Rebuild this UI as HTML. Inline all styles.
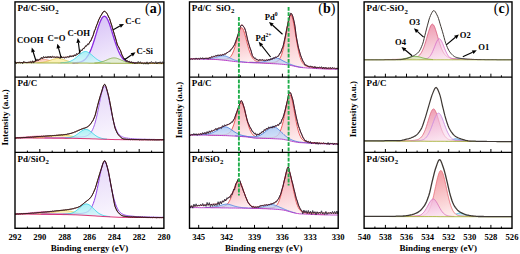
<!DOCTYPE html>
<html><head><meta charset="utf-8"><style>
html,body{margin:0;padding:0;background:#fff;width:520px;height:254px;overflow:hidden}
svg{display:block}
</style></head><body>
<svg width="520" height="254" viewBox="0 0 520 254">
<defs><linearGradient id="gPur" x1="0.2" y1="0" x2="0.7" y2="1"><stop offset="0" stop-color="#d5bdf6"/><stop offset="1" stop-color="#f5f0fd"/></linearGradient><linearGradient id="gPur2" x1="0.2" y1="0" x2="0.7" y2="1"><stop offset="0" stop-color="#e2d2f8"/><stop offset="1" stop-color="#fbf9fe"/></linearGradient><linearGradient id="gCyan" x1="0.2" y1="0" x2="0.7" y2="1"><stop offset="0" stop-color="#86e8f2"/><stop offset="1" stop-color="#d6f7fa"/></linearGradient><linearGradient id="gPink" x1="0.2" y1="0" x2="0.7" y2="1"><stop offset="0" stop-color="#f4a0aa"/><stop offset="1" stop-color="#fff5f5"/></linearGradient><linearGradient id="gBlue" x1="0.2" y1="0" x2="0.7" y2="1"><stop offset="0" stop-color="#9cbcf0"/><stop offset="1" stop-color="#dce8fb"/></linearGradient><linearGradient id="gO3" x1="0.2" y1="0" x2="0.7" y2="1"><stop offset="0" stop-color="#ec92aa"/><stop offset="1" stop-color="#fdeef2"/></linearGradient><linearGradient id="gO2" x1="0.2" y1="0" x2="0.7" y2="1"><stop offset="0" stop-color="#eeaad8"/><stop offset="1" stop-color="#fbe8f5"/></linearGradient><linearGradient id="gRed" x1="0.2" y1="0" x2="0.7" y2="1"><stop offset="0" stop-color="#f09098"/><stop offset="1" stop-color="#fff2f2"/></linearGradient></defs>
<rect width="520" height="254" fill="#fff"/>
<path d="M27.5 62.7L28.5 62.6L29.5 62.6L30.5 62.5L31.5 62.3L32.5 62.2L33.5 62L34.5 61.7L35.5 61.5L36.5 61.2L37.5 60.8L38.5 60.5L39.5 60.2L40.5 59.9L41.5 59.7L42.5 59.5L43.5 59.4L44.5 59.4L45.5 59.5L46.5 59.7L47.5 59.9L48.5 60.2L49.5 60.5L50.5 60.9L51.5 61.2L52.5 61.5L53.5 61.8L54.5 62L55.5 62.2L56.5 62.4L57.5 62.5L58.5 62.7L59.5 62.7L60.5 62.8L60.5 63L59.5 63L58.5 63L57.5 63L56.5 63L55.5 63L54.5 63L53.5 63L52.5 63L51.5 63L50.5 63L49.5 63L48.5 63L47.5 63L46.5 63L45.5 63L44.5 63L43.5 63L42.5 63L41.5 63L40.5 63L39.5 63L38.5 63L37.5 63L36.5 63L35.5 63L34.5 62.9L33.5 62.9L32.5 62.9L31.5 62.9L30.5 62.9L29.5 62.9L28.5 62.9L27.5 62.9Z" fill="#fbd6c8"/>
<path d="M27.5 62.7L28.5 62.6L29.5 62.6L30.5 62.5L31.5 62.3L32.5 62.2L33.5 62L34.5 61.7L35.5 61.5L36.5 61.2L37.5 60.8L38.5 60.5L39.5 60.2L40.5 59.9L41.5 59.7L42.5 59.5L43.5 59.4L44.5 59.4L45.5 59.5L46.5 59.7L47.5 59.9L48.5 60.2L49.5 60.5L50.5 60.9L51.5 61.2L52.5 61.5L53.5 61.8L54.5 62L55.5 62.2L56.5 62.4L57.5 62.5L58.5 62.7L59.5 62.7L60.5 62.8" fill="none" stroke="#f08a74" stroke-width="0.8"/>
<path d="M37.5 62.7L38.5 62.7L39.5 62.6L40.5 62.5L41.5 62.4L42.5 62.3L43.5 62.1L44.5 61.9L45.5 61.7L46.5 61.4L47.5 61.2L48.5 60.9L49.5 60.5L50.5 60.2L51.5 59.8L52.5 59.5L53.5 59.2L54.5 58.9L55.5 58.7L56.5 58.5L57.5 58.4L58.5 58.4L59.5 58.5L60.5 58.7L61.5 58.9L62.5 59.2L63.5 59.5L64.5 59.9L65.5 60.2L66.5 60.6L67.5 60.9L68.5 61.2L69.5 61.5L70.5 61.8L71.5 62L72.5 62.2L73.5 62.4L74.5 62.5L75.5 62.6L76.5 62.7L77.5 62.8L78.5 62.9L78.5 63.1L77.5 63.1L76.5 63.1L75.5 63.1L74.5 63.1L73.5 63.1L72.5 63.1L71.5 63.1L70.5 63.1L69.5 63.1L68.5 63.1L67.5 63.1L66.5 63.1L65.5 63.1L64.5 63L63.5 63L62.5 63L61.5 63L60.5 63L59.5 63L58.5 63L57.5 63L56.5 63L55.5 63L54.5 63L53.5 63L52.5 63L51.5 63L50.5 63L49.5 63L48.5 63L47.5 63L46.5 63L45.5 63L44.5 63L43.5 63L42.5 63L41.5 63L40.5 63L39.5 63L38.5 63L37.5 63Z" fill="#faf0b4"/>
<path d="M37.5 62.7L38.5 62.7L39.5 62.6L40.5 62.5L41.5 62.4L42.5 62.3L43.5 62.1L44.5 61.9L45.5 61.7L46.5 61.4L47.5 61.2L48.5 60.9L49.5 60.5L50.5 60.2L51.5 59.8L52.5 59.5L53.5 59.2L54.5 58.9L55.5 58.7L56.5 58.5L57.5 58.4L58.5 58.4L59.5 58.5L60.5 58.7L61.5 58.9L62.5 59.2L63.5 59.5L64.5 59.9L65.5 60.2L66.5 60.6L67.5 60.9L68.5 61.2L69.5 61.5L70.5 61.8L71.5 62L72.5 62.2L73.5 62.4L74.5 62.5L75.5 62.6L76.5 62.7L77.5 62.8L78.5 62.9" fill="none" stroke="#e2c44a" stroke-width="0.8"/>
<path d="M72.4 62.8L73.4 62.8L74.4 62.8L75.4 62.7L76.4 62.6L77.4 62.5L78.4 62.4L79.4 62.2L80.4 61.9L81.4 61.6L82.4 61.2L83.4 60.6L84.4 59.9L85.4 59L86.4 57.9L87.4 56.5L88.4 54.9L89.4 53L90.4 50.9L91.4 48.4L92.4 45.7L93.4 42.8L94.4 39.7L95.4 36.4L96.4 33.1L97.4 29.8L98.4 26.7L99.4 23.8L100.4 21.2L101.4 19.1L102.4 17.5L103.4 16.5L104.4 16.2L105.4 16.6L106.4 17.5L107.4 19.1L108.4 21.3L109.4 23.8L110.4 26.7L111.4 29.9L112.4 33.2L113.4 36.5L114.4 39.8L115.4 42.9L116.4 45.9L117.4 48.6L118.4 51L119.4 53.2L120.4 55.1L121.4 56.7L122.4 58L123.4 59.2L124.4 60.1L125.4 60.8L126.4 61.4L127.4 61.8L128.4 62.2L129.4 62.4L130.4 62.7L131.4 62.8L132.4 62.9L133.4 63L134.4 63.1L135.4 63.1L136.4 63.2L136.4 63.4L135.4 63.4L134.4 63.4L133.4 63.4L132.4 63.4L131.4 63.4L130.4 63.4L129.4 63.4L128.4 63.4L127.4 63.3L126.4 63.3L125.4 63.3L124.4 63.3L123.4 63.3L122.4 63.3L121.4 63.3L120.4 63.3L119.4 63.3L118.4 63.3L117.4 63.3L116.4 63.3L115.4 63.3L114.4 63.3L113.4 63.3L112.4 63.3L111.4 63.3L110.4 63.3L109.4 63.2L108.4 63.2L107.4 63.2L106.4 63.2L105.4 63.2L104.4 63.2L103.4 63.2L102.4 63.2L101.4 63.2L100.4 63.2L99.4 63.2L98.4 63.2L97.4 63.2L96.4 63.2L95.4 63.2L94.4 63.2L93.4 63.2L92.4 63.2L91.4 63.2L90.4 63.2L89.4 63.2L88.4 63.1L87.4 63.1L86.4 63.1L85.4 63.1L84.4 63.1L83.4 63.1L82.4 63.1L81.4 63.1L80.4 63.1L79.4 63.1L78.4 63.1L77.4 63.1L76.4 63.1L75.4 63.1L74.4 63.1L73.4 63.1L72.4 63.1Z" fill="url(#gPur)"/>
<path d="M72.4 62.8L73.4 62.8L74.4 62.8L75.4 62.7L76.4 62.6L77.4 62.5L78.4 62.4L79.4 62.2L80.4 61.9L81.4 61.6L82.4 61.2L83.4 60.6L84.4 59.9L85.4 59L86.4 57.9L87.4 56.5L88.4 54.9L89.4 53L90.4 50.9L91.4 48.4L92.4 45.7L93.4 42.8L94.4 39.7L95.4 36.4L96.4 33.1L97.4 29.8L98.4 26.7L99.4 23.8L100.4 21.2L101.4 19.1L102.4 17.5L103.4 16.5L104.4 16.2L105.4 16.6L106.4 17.5L107.4 19.1L108.4 21.3L109.4 23.8L110.4 26.7L111.4 29.9L112.4 33.2L113.4 36.5L114.4 39.8L115.4 42.9L116.4 45.9L117.4 48.6L118.4 51L119.4 53.2L120.4 55.1L121.4 56.7L122.4 58L123.4 59.2L124.4 60.1L125.4 60.8L126.4 61.4L127.4 61.8L128.4 62.2L129.4 62.4L130.4 62.7L131.4 62.8L132.4 62.9L133.4 63L134.4 63.1L135.4 63.1L136.4 63.2" fill="none" stroke="#8a2be2" stroke-width="1.3"/>
<path d="M60.5 62.8L61.5 62.8L62.5 62.7L63.5 62.6L64.5 62.6L65.5 62.4L66.5 62.3L67.5 62.1L68.5 61.9L69.5 61.5L70.5 61.2L71.5 60.7L72.5 60.2L73.5 59.6L74.5 58.9L75.5 58.1L76.5 57.3L77.5 56.4L78.5 55.5L79.5 54.7L80.5 53.8L81.5 53.1L82.5 52.4L83.5 51.9L84.5 51.6L85.5 51.5L86.5 51.6L87.5 52L88.5 52.5L89.5 53.1L90.5 53.9L91.5 54.7L92.5 55.6L93.5 56.5L94.5 57.4L95.5 58.2L96.5 59L97.5 59.7L98.5 60.3L99.5 60.8L100.5 61.3L101.5 61.7L102.5 62L103.5 62.3L104.5 62.5L105.5 62.6L106.5 62.7L107.5 62.8L108.5 62.9L109.5 63L110.5 63L110.5 63.3L109.5 63.2L108.5 63.2L107.5 63.2L106.5 63.2L105.5 63.2L104.5 63.2L103.5 63.2L102.5 63.2L101.5 63.2L100.5 63.2L99.5 63.2L98.5 63.2L97.5 63.2L96.5 63.2L95.5 63.2L94.5 63.2L93.5 63.2L92.5 63.2L91.5 63.2L90.5 63.2L89.5 63.2L88.5 63.1L87.5 63.1L86.5 63.1L85.5 63.1L84.5 63.1L83.5 63.1L82.5 63.1L81.5 63.1L80.5 63.1L79.5 63.1L78.5 63.1L77.5 63.1L76.5 63.1L75.5 63.1L74.5 63.1L73.5 63.1L72.5 63.1L71.5 63.1L70.5 63.1L69.5 63.1L68.5 63.1L67.5 63.1L66.5 63.1L65.5 63.1L64.5 63L63.5 63L62.5 63L61.5 63L60.5 63Z" fill="url(#gCyan)" fill-opacity="0.75"/>
<path d="M60.5 62.8L61.5 62.8L62.5 62.7L63.5 62.6L64.5 62.6L65.5 62.4L66.5 62.3L67.5 62.1L68.5 61.9L69.5 61.5L70.5 61.2L71.5 60.7L72.5 60.2L73.5 59.6L74.5 58.9L75.5 58.1L76.5 57.3L77.5 56.4L78.5 55.5L79.5 54.7L80.5 53.8L81.5 53.1L82.5 52.4L83.5 51.9L84.5 51.6L85.5 51.5L86.5 51.6L87.5 52L88.5 52.5L89.5 53.1L90.5 53.9L91.5 54.7L92.5 55.6L93.5 56.5L94.5 57.4L95.5 58.2L96.5 59L97.5 59.7L98.5 60.3L99.5 60.8L100.5 61.3L101.5 61.7L102.5 62L103.5 62.3L104.5 62.5L105.5 62.6L106.5 62.7L107.5 62.8L108.5 62.9L109.5 63L110.5 63" fill="none" stroke="#30d2e6" stroke-width="0.8"/>
<path d="M94.5 62.9L95.5 62.9L96.5 62.8L97.5 62.7L98.5 62.5L99.5 62.4L100.5 62.2L101.5 61.9L102.5 61.6L103.5 61.3L104.5 60.9L105.5 60.5L106.5 60.1L107.5 59.7L108.5 59.2L109.5 58.8L110.5 58.5L111.5 58.2L112.5 58L113.5 57.9L114.5 57.9L115.5 58L116.5 58.2L117.5 58.5L118.5 58.9L119.5 59.3L120.5 59.7L121.5 60.2L122.5 60.6L123.5 61L124.5 61.4L125.5 61.8L126.5 62.1L127.5 62.3L128.5 62.5L129.5 62.7L130.5 62.9L131.5 63L132.5 63.1L133.5 63.1L133.5 63.4L132.5 63.4L131.5 63.4L130.5 63.4L129.5 63.4L128.5 63.4L127.5 63.3L126.5 63.3L125.5 63.3L124.5 63.3L123.5 63.3L122.5 63.3L121.5 63.3L120.5 63.3L119.5 63.3L118.5 63.3L117.5 63.3L116.5 63.3L115.5 63.3L114.5 63.3L113.5 63.3L112.5 63.3L111.5 63.3L110.5 63.3L109.5 63.2L108.5 63.2L107.5 63.2L106.5 63.2L105.5 63.2L104.5 63.2L103.5 63.2L102.5 63.2L101.5 63.2L100.5 63.2L99.5 63.2L98.5 63.2L97.5 63.2L96.5 63.2L95.5 63.2L94.5 63.2Z" fill="#dcedc4" fill-opacity="0.7"/>
<path d="M94.5 62.9L95.5 62.9L96.5 62.8L97.5 62.7L98.5 62.5L99.5 62.4L100.5 62.2L101.5 61.9L102.5 61.6L103.5 61.3L104.5 60.9L105.5 60.5L106.5 60.1L107.5 59.7L108.5 59.2L109.5 58.8L110.5 58.5L111.5 58.2L112.5 58L113.5 57.9L114.5 57.9L115.5 58L116.5 58.2L117.5 58.5L118.5 58.9L119.5 59.3L120.5 59.7L121.5 60.2L122.5 60.6L123.5 61L124.5 61.4L125.5 61.8L126.5 62.1L127.5 62.3L128.5 62.5L129.5 62.7L130.5 62.9L131.5 63L132.5 63.1L133.5 63.1" fill="none" stroke="#7aa83a" stroke-width="0.8"/>
<path d="M15 62.9L17 62.9L19 62.9L21 62.9L23 62.9L25 62.9L27 62.9L29 62.9L31 62.9L33 62.9L35 62.9L37 63L39 63L41 63L43 63L45 63L47 63L49 63L51 63L53 63L55 63L57 63L59 63L61 63L63 63L65 63.1L67 63.1L69 63.1L71 63.1L73 63.1L75 63.1L77 63.1L79 63.1L81 63.1L83 63.1L85 63.1L87 63.1L89 63.2L91 63.2L93 63.2L95 63.2L97 63.2L99 63.2L101 63.2L103 63.2L105 63.2L107 63.2L109 63.2L111 63.3L113 63.3L115 63.3L117 63.3L119 63.3L121 63.3L123 63.3L125 63.3L127 63.3L129 63.4L131 63.4L133 63.4L135 63.4L137 63.4L139 63.4L141 63.4L143 63.4L145 63.5L147 63.5L149 63.5L151 63.5L153 63.5L155 63.5L157 63.5L159 63.6L161 63.6L163 63.6L163.9 63.6" fill="none" stroke="#98a838" stroke-width="0.9" />
<path d="M15 62.6L15.7 62.6L16.4 62.6L17.1 62.6L17.8 62.6L18.5 62.6L19.2 62.6L19.9 62.6L20.6 62.6L21.3 62.6L22 62.5L22.7 62.5L23.4 62.5L24.1 62.5L24.8 62.5L25.5 62.5L26.2 62.5L26.9 62.4L27.6 62.4L28.3 62.4L29 62.3L29.7 62.2L30.4 62.2L31.1 62.1L31.8 62L32.5 61.9L33.2 61.8L33.9 61.6L34.6 61.3L35.3 61.1L36 60.8L36.7 60.6L37.4 60.3L38.1 60L38.8 59.6L39.5 59.3L40.2 58.9L40.9 58.6L41.6 58.3L42.3 58.1L43 57.9L43.7 57.8L44.4 57.6L45.1 57.5L45.8 57.4L46.5 57.3L47.2 57.3L47.9 57.3L48.6 57.2L49.3 57.2L50 57.2L50.7 57.2L51.4 57.1L52.1 57.1L52.8 57.1L53.5 57.1L54.2 57.1L54.9 57.1L55.6 57.1L56.3 57.1L57 57.2L57.7 57.2L58.4 57.2L59.1 57.3L59.8 57.3L60.5 57.4L61.2 57.4L61.9 57.4L62.6 57.4L63.3 57.4L64 57.3L64.7 57.3L65.4 57.2L66.1 57.1L66.8 57L67.5 56.9L68.2 56.8L68.9 56.7L69.6 56.6L70.3 56.4L71 56.2L71.7 56.1L72.4 55.9L73.1 55.8L73.8 55.6L74.5 55.4L75.2 55.2L75.9 55L76.6 54.8L77.3 54.4L78 53.9L78.7 53.2L79.4 52.5L80.1 51.8L80.8 51.1L81.5 50.4L82.2 49.7L82.9 49L83.6 48.3L84.3 47.7L85 47L85.7 46.4L86.4 45.7L87.1 45L87.8 44.4L88.5 43.7L89.2 43L89.9 42.1L90.6 40.9L91.3 39.6L92 38.2L92.7 36.6L93.4 34.7L94.1 32.6L94.8 30.5L95.5 28.4L96.2 26.5L96.9 24.7L97.6 22.9L98.3 21.1L99 19.4L99.7 17.9L100.4 16.6L101.1 15.3L101.8 14L102.5 12.9L103.2 11.9L103.9 11.3L104.6 11.2L105.3 11.6L106 12.3L106.7 13.2L107.4 14.4L108.1 15.7L108.8 17L109.5 18.6L110.2 20.6L110.9 22.9L111.6 25.2L112.3 27.5L113 29.7L113.7 32.1L114.4 34.5L115.1 36.8L115.8 39.2L116.5 41.7L117.2 44L117.9 45.6L118.6 46.9L119.3 48.1L120 49.4L120.7 51.2L121.4 53.1L122.1 55L122.8 56.7L123.5 58L124.2 58.8L124.9 59.4L125.6 60L126.3 60.5L127 60.9L127.7 61.3L128.4 61.6L129.1 61.8L129.8 62L130.5 62.2L131.2 62.4L131.9 62.5L132.6 62.7L133.3 62.8L134 62.9L134.7 62.9L135.4 62.9L136.1 62.9L136.8 62.9L137.5 62.9L138.2 62.9L138.9 62.9L139.6 62.9L140.3 62.9L141 62.9L141.7 62.9L142.4 63L143.1 63L143.8 63L144.5 63L145.2 63L145.9 63L146.6 63L147.3 63L148 63L148.7 63L149.4 63L150.1 63L150.8 63L151.5 63L152.2 63L152.9 63L153.6 63L154.3 63L155 63L155.7 63L156.4 63L157.1 63L157.8 63L158.5 63L159.2 63L159.9 63L160.6 63L161.3 63L162 63L162.7 63L163.4 63L163.9 63" fill="none" stroke="#6a1818" stroke-width="1.0" />
<path d="M15 61.2L16.1 63.9L17.2 62.2L18.3 63L19.4 61.8L20.5 63.3L21.6 62L22.7 63.8L23.8 61.1L24.9 62.5L26 62.2L27.1 63.1L28.2 62L29.3 62.3L30.4 61.3L31.5 63.2L32.6 60.7L33.7 63.1L34.8 61.1L35.9 60.9L37 58.9L38.1 60.8L39.2 59.3L40.3 59.4L41.4 57.2L42.5 58.7L43.6 56.3L44.7 57.9L45.8 56.5L46.9 58.1L48 56.1L49.1 57.6L50.2 56L51.3 57.9L52.4 56L53.5 57.1L54.6 56.8L55.7 58L56.8 56.6L57.9 57.5L59 57.3L60.1 58.7L61.2 56L62.3 57.9L63.4 56.9L64.5 58.4L65.6 57.1L66.7 57.7L67.8 56.6L68.9 57.7L70 55.4L71.1 57.1L72.2 55.8L73.3 57L74.4 54.7L75.5 56.1L76.6 53.3L77.7 54.5L78.8 52.8L79.9 52.6L81 49.6L82.1 50.7L83.2 48.2L84.3 48.7L85.4 45.7L86.5 46.3L87.6 43.8L88.7 44.8L89.8 41.5L90.9 41L92 37.4L93.1 35.6L94.2 30.8L95.3 29.5L96.4 26L97.5 23.5L98.6 19.9L99.7 18.1L100.8 15.5L101.9 14.6L103 12L104.1 11.6L105.2 11.4L106.3 12.8L107.4 14L108.5 17.1L109.6 18.5L110.7 22.5L111.8 25.3L112.9 29.8L114 33.1L115.1 36.8L116.2 40.3L117.3 45.5L118.4 46.4L119.5 49.6L120.6 50.6L121.7 54.8L122.8 56.1L123.9 59.2L125 58.1L126.1 61.7L127.2 60.4L128.3 61.9L129.4 61.2L130.5 63L131.6 61.5L132.7 63.2L133.8 62.1L134.9 63.9L136 62.3L137.1 63.6L138.2 61.4L139.3 63.3L140.4 61.7L141.5 63.9L142.6 62.7L143.7 64.2L144.8 62.6L145.9 64.2L147 61.8L148.1 64.3L149.2 62.5L150.3 63.1L151.4 61.5L152.5 63L153.6 62.6L154.7 63.4L155.8 61.6L156.9 64L158 62L159.1 63.1L160.2 61.7L161.3 63.8L162.4 61.7L163.5 63.4L163.9 62.6" fill="none" stroke="#151515" stroke-width="0.7" stroke-linejoin="round"/>
<path d="M15 137.7L16 137.6L17 137.6L18 137.5L19 137.5L20 137.4L21 137.3L22 137.3L23 137.2L24 137.1L25 137L26 136.9L27 136.8L28 136.8L29 136.7L30 136.6L31 136.5L32 136.4L33 136.3L34 136.3L35 136.2L36 136.2L37 136.1L38 136.1L39 136.1L40 136.1L41 136.1L42 136.1L43 136.2L44 136.2L45 136.3L46 136.3L47 136.4L48 136.5L49 136.6L50 136.7L51 136.8L52 136.9L53 137L54 137.1L55 137.2L56 137.3L57 137.4L58 137.4L59 137.5L60 137.6L61 137.7L62 137.7L63 137.8L64 137.9L65 137.9L66 138L67 138L67.5 138L67.5 138.3L67 138.3L66 138.3L65 138.3L64 138.2L63 138.2L62 138.2L61 138.2L60 138.2L59 138.2L58 138.2L57 138.2L56 138.2L55 138.2L54 138.2L53 138.2L52 138.2L51 138.1L50 138.1L49 138.1L48 138.1L47 138.1L46 138.1L45 138.1L44 138.1L43 138.1L42 138.1L41 138.1L40 138.1L39 138.1L38 138.1L37 138.1L36 138.1L35 138L34 138L33 138L32 138L31 138L30 138L29 138L28 138L27 138L26 138L25 138L24 138L23 138L22 138L21 138L20 138L19 138L18 138L17 138L16 138L15 138Z" fill="#fbd4e2"/>
<path d="M15 137.7L16 137.6L17 137.6L18 137.5L19 137.5L20 137.4L21 137.3L22 137.3L23 137.2L24 137.1L25 137L26 136.9L27 136.8L28 136.8L29 136.7L30 136.6L31 136.5L32 136.4L33 136.3L34 136.3L35 136.2L36 136.2L37 136.1L38 136.1L39 136.1L40 136.1L41 136.1L42 136.1L43 136.2L44 136.2L45 136.3L46 136.3L47 136.4L48 136.5L49 136.6L50 136.7L51 136.8L52 136.9L53 137L54 137.1L55 137.2L56 137.3L57 137.4L58 137.4L59 137.5L60 137.6L61 137.7L62 137.7L63 137.8L64 137.9L65 137.9L66 138L67 138L67.5 138" fill="none" stroke="#f06ca0" stroke-width="0.8"/>
<path d="M33 137.8L34 137.8L35 137.7L36 137.7L37 137.7L38 137.6L39 137.5L40 137.5L41 137.4L42 137.3L43 137.2L44 137.1L45 137L46 136.9L47 136.8L48 136.6L49 136.5L50 136.3L51 136.2L52 136.1L53 135.9L54 135.8L55 135.7L56 135.6L57 135.5L58 135.4L59 135.3L60 135.3L61 135.2L62 135.2L63 135.3L64 135.3L65 135.4L66 135.4L67 135.5L68 135.7L69 135.8L70 135.9L71 136.1L72 136.2L73 136.4L74 136.6L75 136.7L76 136.9L77 137L78 137.2L79 137.3L80 137.5L81 137.6L82 137.7L83 137.9L84 138L85 138.1L86 138.2L87 138.3L88 138.4L89 138.4L90 138.5L91 138.6L91 138.8L90 138.8L89 138.7L88 138.7L87 138.7L86 138.6L85 138.6L84 138.6L83 138.6L82 138.5L81 138.5L80 138.5L79 138.5L78 138.4L77 138.4L76 138.4L75 138.4L74 138.4L73 138.3L72 138.3L71 138.3L70 138.3L69 138.3L68 138.3L67 138.3L66 138.3L65 138.3L64 138.2L63 138.2L62 138.2L61 138.2L60 138.2L59 138.2L58 138.2L57 138.2L56 138.2L55 138.2L54 138.2L53 138.2L52 138.2L51 138.1L50 138.1L49 138.1L48 138.1L47 138.1L46 138.1L45 138.1L44 138.1L43 138.1L42 138.1L41 138.1L40 138.1L39 138.1L38 138.1L37 138.1L36 138.1L35 138L34 138L33 138Z" fill="#faf3c0"/>
<path d="M33 137.8L34 137.8L35 137.7L36 137.7L37 137.7L38 137.6L39 137.5L40 137.5L41 137.4L42 137.3L43 137.2L44 137.1L45 137L46 136.9L47 136.8L48 136.6L49 136.5L50 136.3L51 136.2L52 136.1L53 135.9L54 135.8L55 135.7L56 135.6L57 135.5L58 135.4L59 135.3L60 135.3L61 135.2L62 135.2L63 135.3L64 135.3L65 135.4L66 135.4L67 135.5L68 135.7L69 135.8L70 135.9L71 136.1L72 136.2L73 136.4L74 136.6L75 136.7L76 136.9L77 137L78 137.2L79 137.3L80 137.5L81 137.6L82 137.7L83 137.9L84 138L85 138.1L86 138.2L87 138.3L88 138.4L89 138.4L90 138.5L91 138.6" fill="none" stroke="#e2cc48" stroke-width="0.8"/>
<path d="M44.6 137.9L45.6 137.8L46.6 137.8L47.6 137.8L48.6 137.8L49.6 137.8L50.6 137.8L51.6 137.8L52.6 137.8L53.6 137.8L54.6 137.8L55.6 137.8L56.6 137.8L57.6 137.8L58.6 137.8L59.6 137.8L60.6 137.8L61.6 137.7L62.6 137.7L63.6 137.7L64.6 137.7L65.6 137.7L66.6 137.7L67.6 137.6L68.6 137.6L69.6 137.6L70.6 137.6L71.6 137.5L72.6 137.5L73.6 137.4L74.6 137.4L75.6 137.4L76.6 137.3L77.6 137.3L78.6 137.2L79.6 137.1L80.6 137L81.6 136.9L82.6 136.8L83.6 136.7L84.6 136.5L85.6 136.2L86.6 135.9L87.6 135.4L88.6 134.8L89.6 134L90.6 132.9L91.6 131.5L92.6 129.7L93.6 127.3L94.6 124.5L95.6 121L96.6 117L97.6 112.5L98.6 107.7L99.6 102.6L100.6 97.7L101.6 93.2L102.6 89.5L103.6 87.1L104.6 86.3L105.6 87.2L106.6 89.6L107.6 93.4L108.6 97.9L109.6 103L110.6 108.1L111.6 113L112.6 117.5L113.6 121.6L114.6 125.1L115.6 128L116.6 130.4L117.6 132.3L118.6 133.8L119.6 134.9L120.6 135.8L121.6 136.4L122.6 136.9L123.6 137.3L124.6 137.6L125.6 137.8L126.6 138L127.6 138.1L128.6 138.3L129.6 138.4L130.6 138.5L131.6 138.6L132.6 138.6L133.6 138.7L134.6 138.8L135.6 138.8L136.6 138.9L137.6 139L138.6 139L139.6 139L140.6 139.1L141.6 139.1L142.6 139.2L143.6 139.2L144.6 139.2L145.6 139.2L146.6 139.3L147.6 139.3L148.6 139.3L149.6 139.3L150.6 139.4L151.6 139.4L152.6 139.4L153.6 139.4L154.6 139.4L155.6 139.5L156.6 139.5L157.6 139.5L158.6 139.5L159.6 139.5L160.6 139.5L161.6 139.5L162.6 139.5L163.6 139.5L163.9 139.5L163.9 139.8L163.6 139.8L162.6 139.8L161.6 139.8L160.6 139.8L159.6 139.8L158.6 139.8L157.6 139.8L156.6 139.8L155.6 139.8L154.6 139.8L153.6 139.8L152.6 139.8L151.6 139.8L150.6 139.8L149.6 139.8L148.6 139.8L147.6 139.8L146.6 139.8L145.6 139.8L144.6 139.8L143.6 139.8L142.6 139.8L141.6 139.8L140.6 139.8L139.6 139.8L138.6 139.8L137.6 139.8L136.6 139.7L135.6 139.7L134.6 139.7L133.6 139.7L132.6 139.7L131.6 139.7L130.6 139.7L129.6 139.7L128.6 139.7L127.6 139.7L126.6 139.7L125.6 139.7L124.6 139.7L123.6 139.7L122.6 139.7L121.6 139.7L120.6 139.7L119.6 139.6L118.6 139.6L117.6 139.6L116.6 139.6L115.6 139.6L114.6 139.6L113.6 139.5L112.6 139.5L111.6 139.5L110.6 139.5L109.6 139.4L108.6 139.4L107.6 139.4L106.6 139.3L105.6 139.3L104.6 139.3L103.6 139.2L102.6 139.2L101.6 139.2L100.6 139.1L99.6 139.1L98.6 139.1L97.6 139L96.6 139L95.6 139L94.6 138.9L93.6 138.9L92.6 138.9L91.6 138.8L90.6 138.8L89.6 138.8L88.6 138.7L87.6 138.7L86.6 138.7L85.6 138.6L84.6 138.6L83.6 138.6L82.6 138.5L81.6 138.5L80.6 138.5L79.6 138.5L78.6 138.4L77.6 138.4L76.6 138.4L75.6 138.4L74.6 138.4L73.6 138.3L72.6 138.3L71.6 138.3L70.6 138.3L69.6 138.3L68.6 138.3L67.6 138.3L66.6 138.3L65.6 138.3L64.6 138.3L63.6 138.2L62.6 138.2L61.6 138.2L60.6 138.2L59.6 138.2L58.6 138.2L57.6 138.2L56.6 138.2L55.6 138.2L54.6 138.2L53.6 138.2L52.6 138.2L51.6 138.1L50.6 138.1L49.6 138.1L48.6 138.1L47.6 138.1L46.6 138.1L45.6 138.1L44.6 138.1Z" fill="url(#gPur2)"/>
<path d="M44.6 137.9L45.6 137.8L46.6 137.8L47.6 137.8L48.6 137.8L49.6 137.8L50.6 137.8L51.6 137.8L52.6 137.8L53.6 137.8L54.6 137.8L55.6 137.8L56.6 137.8L57.6 137.8L58.6 137.8L59.6 137.8L60.6 137.8L61.6 137.7L62.6 137.7L63.6 137.7L64.6 137.7L65.6 137.7L66.6 137.7L67.6 137.6L68.6 137.6L69.6 137.6L70.6 137.6L71.6 137.5L72.6 137.5L73.6 137.4L74.6 137.4L75.6 137.4L76.6 137.3L77.6 137.3L78.6 137.2L79.6 137.1L80.6 137L81.6 136.9L82.6 136.8L83.6 136.7L84.6 136.5L85.6 136.2L86.6 135.9L87.6 135.4L88.6 134.8L89.6 134L90.6 132.9L91.6 131.5L92.6 129.7L93.6 127.3L94.6 124.5L95.6 121L96.6 117L97.6 112.5L98.6 107.7L99.6 102.6L100.6 97.7L101.6 93.2L102.6 89.5L103.6 87.1L104.6 86.3L105.6 87.2L106.6 89.6L107.6 93.4L108.6 97.9L109.6 103L110.6 108.1L111.6 113L112.6 117.5L113.6 121.6L114.6 125.1L115.6 128L116.6 130.4L117.6 132.3L118.6 133.8L119.6 134.9L120.6 135.8L121.6 136.4L122.6 136.9L123.6 137.3L124.6 137.6L125.6 137.8L126.6 138L127.6 138.1L128.6 138.3L129.6 138.4L130.6 138.5L131.6 138.6L132.6 138.6L133.6 138.7L134.6 138.8L135.6 138.8L136.6 138.9L137.6 139L138.6 139L139.6 139L140.6 139.1L141.6 139.1L142.6 139.2L143.6 139.2L144.6 139.2L145.6 139.2L146.6 139.3L147.6 139.3L148.6 139.3L149.6 139.3L150.6 139.4L151.6 139.4L152.6 139.4L153.6 139.4L154.6 139.4L155.6 139.5L156.6 139.5L157.6 139.5L158.6 139.5L159.6 139.5L160.6 139.5L161.6 139.5L162.6 139.5L163.6 139.5L163.9 139.5" fill="none" stroke="#9850e6" stroke-width="0.9"/>
<path d="M64.9 138L65.9 138L66.9 137.9L67.9 137.8L68.9 137.7L69.9 137.5L70.9 137.3L71.9 137L72.9 136.7L73.9 136.3L74.9 135.8L75.9 135.2L76.9 134.5L77.9 133.8L78.9 133L79.9 132.2L80.9 131.5L81.9 130.8L82.9 130.2L83.9 129.7L84.9 129.4L85.9 129.3L86.9 129.5L87.9 129.8L88.9 130.3L89.9 131L90.9 131.8L91.9 132.6L92.9 133.4L93.9 134.3L94.9 135L95.9 135.8L96.9 136.4L97.9 137L98.9 137.4L99.9 137.8L100.9 138.1L101.9 138.4L102.9 138.6L103.9 138.8L104.9 138.9L105.9 139L106.9 139.1L106.9 139.3L105.9 139.3L104.9 139.3L103.9 139.2L102.9 139.2L101.9 139.2L100.9 139.1L99.9 139.1L98.9 139.1L97.9 139L96.9 139L95.9 139L94.9 138.9L93.9 138.9L92.9 138.9L91.9 138.8L90.9 138.8L89.9 138.8L88.9 138.7L87.9 138.7L86.9 138.7L85.9 138.6L84.9 138.6L83.9 138.6L82.9 138.6L81.9 138.5L80.9 138.5L79.9 138.5L78.9 138.4L77.9 138.4L76.9 138.4L75.9 138.4L74.9 138.4L73.9 138.3L72.9 138.3L71.9 138.3L70.9 138.3L69.9 138.3L68.9 138.3L67.9 138.3L66.9 138.3L65.9 138.3L64.9 138.3Z" fill="url(#gCyan)" fill-opacity="0.75"/>
<path d="M64.9 138L65.9 138L66.9 137.9L67.9 137.8L68.9 137.7L69.9 137.5L70.9 137.3L71.9 137L72.9 136.7L73.9 136.3L74.9 135.8L75.9 135.2L76.9 134.5L77.9 133.8L78.9 133L79.9 132.2L80.9 131.5L81.9 130.8L82.9 130.2L83.9 129.7L84.9 129.4L85.9 129.3L86.9 129.5L87.9 129.8L88.9 130.3L89.9 131L90.9 131.8L91.9 132.6L92.9 133.4L93.9 134.3L94.9 135L95.9 135.8L96.9 136.4L97.9 137L98.9 137.4L99.9 137.8L100.9 138.1L101.9 138.4L102.9 138.6L103.9 138.8L104.9 138.9L105.9 139L106.9 139.1" fill="none" stroke="#30d2e6" stroke-width="0.8"/>
<path d="M15 138L17 138L19 138L21 138L23 138L25 138L27 138L29 138L31 138L33 138L35 138L37 138.1L39 138.1L41 138.1L43 138.1L45 138.1L47 138.1L49 138.1L51 138.1L53 138.2L55 138.2L57 138.2L59 138.2L61 138.2L63 138.2L65 138.3L67 138.3L69 138.3L71 138.3L73 138.3L75 138.4L77 138.4L79 138.5L81 138.5L83 138.6L85 138.6L87 138.7L89 138.7L91 138.8L93 138.9L95 138.9L97 139L99 139.1L101 139.2L103 139.2L105 139.3L107 139.3L109 139.4L111 139.5L113 139.5L115 139.6L117 139.6L119 139.6L121 139.7L123 139.7L125 139.7L127 139.7L129 139.7L131 139.7L133 139.7L135 139.7L137 139.7L139 139.8L141 139.8L143 139.8L145 139.8L147 139.8L149 139.8L151 139.8L153 139.8L155 139.8L157 139.8L159 139.8L161 139.8L163 139.8L163.9 139.8" fill="none" stroke="#d8206a" stroke-width="0.9" />
<path d="M15 138L15.7 138L16.4 137.9L17.1 137.9L17.8 137.9L18.5 137.8L19.2 137.8L19.9 137.8L20.6 137.7L21.3 137.7L22 137.7L22.7 137.6L23.4 137.6L24.1 137.5L24.8 137.5L25.5 137.5L26.2 137.4L26.9 137.4L27.6 137.3L28.3 137.3L29 137.3L29.7 137.2L30.4 137.2L31.1 137.1L31.8 137.1L32.5 137L33.2 137L33.9 136.9L34.6 136.9L35.3 136.8L36 136.8L36.7 136.7L37.4 136.7L38.1 136.6L38.8 136.6L39.5 136.5L40.2 136.5L40.9 136.4L41.6 136.4L42.3 136.3L43 136.3L43.7 136.2L44.4 136.2L45.1 136.1L45.8 136.1L46.5 136L47.2 136L47.9 135.9L48.6 135.9L49.3 135.8L50 135.8L50.7 135.7L51.4 135.7L52.1 135.6L52.8 135.6L53.5 135.5L54.2 135.5L54.9 135.4L55.6 135.4L56.3 135.3L57 135.2L57.7 135.2L58.4 135.1L59.1 135.1L59.8 135L60.5 135L61.2 134.9L61.9 134.9L62.6 134.8L63.3 134.7L64 134.6L64.7 134.6L65.4 134.5L66.1 134.4L66.8 134.3L67.5 134.1L68.2 134L68.9 133.8L69.6 133.7L70.3 133.5L71 133.3L71.7 133.1L72.4 132.9L73.1 132.6L73.8 132.4L74.5 132.1L75.2 131.8L75.9 131.5L76.6 131.2L77.3 130.9L78 130.6L78.7 130.3L79.4 130L80.1 129.7L80.8 129.4L81.5 129.1L82.2 128.9L82.9 128.6L83.6 128.4L84.3 128.2L85 127.9L85.7 127.7L86.4 127.4L87.1 127L87.8 126.7L88.5 126.2L89.2 125.5L89.9 124.7L90.6 123.8L91.3 122.9L92 121.8L92.7 120.8L93.4 119.5L94.1 118L94.8 116.3L95.5 114.1L96.2 111.3L96.9 108.4L97.6 105.5L98.3 103L99 100.4L99.7 97.9L100.4 95.6L101.1 93.4L101.8 91.1L102.5 88.6L103.2 86.5L103.9 84.9L104.6 84.3L105.3 84.9L106 86.6L106.7 88.9L107.4 91.5L108.1 94.1L108.8 96.9L109.5 100.3L110.2 103.8L110.9 107.5L111.6 111.5L112.3 115.4L113 119L113.7 122.3L114.4 125.5L115.1 128.1L115.8 130L116.5 131.6L117.2 133L117.9 134.1L118.6 135L119.3 135.8L120 136.5L120.7 137.2L121.4 137.8L122.1 138.3L122.8 138.7L123.5 138.9L124.2 139.1L124.9 139.2L125.6 139.2L126.3 139.3L127 139.4L127.7 139.4L128.4 139.4L129.1 139.5L129.8 139.5L130.5 139.5L131.2 139.5L131.9 139.5L132.6 139.5L133.3 139.6L134 139.6L134.7 139.6L135.4 139.6L136.1 139.6L136.8 139.6L137.5 139.6L138.2 139.6L138.9 139.6L139.6 139.7L140.3 139.7L141 139.7L141.7 139.7L142.4 139.7L143.1 139.7L143.8 139.7L144.5 139.7L145.2 139.7L145.9 139.7L146.6 139.7L147.3 139.7L148 139.7L148.7 139.7L149.4 139.8L150.1 139.8L150.8 139.8L151.5 139.8L152.2 139.8L152.9 139.8L153.6 139.8L154.3 139.8L155 139.8L155.7 139.8L156.4 139.8L157.1 139.8L157.8 139.8L158.5 139.8L159.2 139.8L159.9 139.8L160.6 139.8L161.3 139.8L162 139.8L162.7 139.8L163.4 139.8L163.9 139.8" fill="none" stroke="#6a1818" stroke-width="1.0" />
<path d="M15 138L16.1 138.2L17.2 137.6L18.3 137.9L19.4 137.7L20.5 138L21.6 137.6L22.7 137.7L23.8 137.4L24.9 137.7L26 137.3L27.1 137.4L28.2 137.1L29.3 137.4L30.4 137.1L31.5 137.4L32.6 137L33.7 137.1L34.8 136.7L35.9 136.9L37 136.4L38.1 136.6L39.2 136.4L40.3 136.6L41.4 136.2L42.5 136.6L43.6 136.1L44.7 136.3L45.8 135.9L46.9 136L48 135.7L49.1 135.9L50.2 135.6L51.3 136L52.4 135.5L53.5 135.6L54.6 135.4L55.7 135.6L56.8 135.2L57.9 135.4L59 135L60.1 135.2L61.2 134.7L62.3 135.1L63.4 134.7L64.5 134.6L65.6 134.4L66.7 134.5L67.8 133.9L68.9 134L70 133.4L71.1 133.5L72.2 132.8L73.3 132.8L74.4 132L75.5 132L76.6 131.2L77.7 130.9L78.8 130.1L79.9 130L81 129.2L82.1 129L83.2 128.3L84.3 128.3L85.4 127.7L86.5 127.4L87.6 126.7L88.7 126.1L89.8 124.8L90.9 123.5L92 121.8L93.1 120.3L94.2 117.7L95.3 114.9L96.4 110.4L97.5 106.1L98.6 101.7L99.7 98L100.8 94.2L101.9 91L103 86.9L104.1 84.6L105.2 84.7L106.3 87.7L107.4 91.5L108.5 95.7L109.6 100.7L110.7 106.4L111.8 112.5L112.9 118.6L114 123.5L115.1 128.4L116.2 130.7L117.3 133.3L118.4 134.8L119.5 136.1L120.6 136.9L121.7 138.3L122.8 138.5L123.9 139.2L125 138.9L126.1 139.4L127.2 139.1L128.3 139.6L129.4 139.2L130.5 139.8L131.6 139.2L132.7 139.8L133.8 139.3L134.9 139.7L136 139.5L137.1 139.7L138.2 139.4L139.3 139.9L140.4 139.5L141.5 139.7L142.6 139.7L143.7 139.7L144.8 139.4L145.9 139.8L147 139.6L148.1 140L149.2 139.5L150.3 139.9L151.4 139.5L152.5 139.9L153.6 139.7L154.7 140L155.8 139.8L156.9 140L158 139.8L159.1 140L160.2 139.6L161.3 139.9L162.4 139.7L163.5 139.9L163.9 139.5" fill="none" stroke="#151515" stroke-width="0.7" stroke-linejoin="round"/>
<path d="M15.5 213.9L16.5 213.8L17.5 213.8L18.5 213.7L19.5 213.7L20.5 213.6L21.5 213.6L22.5 213.5L23.5 213.4L24.5 213.4L25.5 213.3L26.5 213.2L27.5 213.1L28.5 213L29.5 212.9L30.5 212.8L31.5 212.7L32.5 212.6L33.5 212.5L34.5 212.4L35.5 212.3L36.5 212.2L37.5 212.1L38.5 212L39.5 211.9L40.5 211.8L41.5 211.8L42.5 211.7L43.5 211.7L44.5 211.7L45.5 211.7L46.5 211.7L47.5 211.8L48.5 211.9L49.5 211.9L50.5 212L51.5 212.1L52.5 212.2L53.5 212.4L54.5 212.5L55.5 212.6L56.5 212.8L57.5 212.9L58.5 213L59.5 213.2L60.5 213.3L61.5 213.4L62.5 213.5L63.5 213.7L64.5 213.8L65.5 213.9L66.5 214L67.5 214.1L68.5 214.1L69.5 214.2L70.5 214.3L71.5 214.4L72.5 214.4L73.5 214.5L74.5 214.6L74.5 214.8L73.5 214.8L72.5 214.8L71.5 214.7L70.5 214.7L69.5 214.7L68.5 214.7L67.5 214.7L66.5 214.6L65.5 214.6L64.5 214.6L63.5 214.6L62.5 214.6L61.5 214.6L60.5 214.5L59.5 214.5L58.5 214.5L57.5 214.5L56.5 214.5L55.5 214.5L54.5 214.4L53.5 214.4L52.5 214.4L51.5 214.4L50.5 214.4L49.5 214.4L48.5 214.4L47.5 214.3L46.5 214.3L45.5 214.3L44.5 214.3L43.5 214.3L42.5 214.3L41.5 214.3L40.5 214.3L39.5 214.2L38.5 214.2L37.5 214.2L36.5 214.2L35.5 214.2L34.5 214.2L33.5 214.2L32.5 214.2L31.5 214.2L30.5 214.2L29.5 214.2L28.5 214.1L27.5 214.1L26.5 214.1L25.5 214.1L24.5 214.1L23.5 214.1L22.5 214.1L21.5 214.1L20.5 214.1L19.5 214.1L18.5 214.1L17.5 214.1L16.5 214.1L15.5 214.1Z" fill="#fbd0ec"/>
<path d="M15.5 213.9L16.5 213.8L17.5 213.8L18.5 213.7L19.5 213.7L20.5 213.6L21.5 213.6L22.5 213.5L23.5 213.4L24.5 213.4L25.5 213.3L26.5 213.2L27.5 213.1L28.5 213L29.5 212.9L30.5 212.8L31.5 212.7L32.5 212.6L33.5 212.5L34.5 212.4L35.5 212.3L36.5 212.2L37.5 212.1L38.5 212L39.5 211.9L40.5 211.8L41.5 211.8L42.5 211.7L43.5 211.7L44.5 211.7L45.5 211.7L46.5 211.7L47.5 211.8L48.5 211.9L49.5 211.9L50.5 212L51.5 212.1L52.5 212.2L53.5 212.4L54.5 212.5L55.5 212.6L56.5 212.8L57.5 212.9L58.5 213L59.5 213.2L60.5 213.3L61.5 213.4L62.5 213.5L63.5 213.7L64.5 213.8L65.5 213.9L66.5 214L67.5 214.1L68.5 214.1L69.5 214.2L70.5 214.3L71.5 214.4L72.5 214.4L73.5 214.5L74.5 214.6" fill="none" stroke="#f060c0" stroke-width="0.8"/>
<path d="M37.5 214L38.5 213.9L39.5 213.9L40.5 213.9L41.5 213.8L42.5 213.7L43.5 213.7L44.5 213.6L45.5 213.5L46.5 213.4L47.5 213.2L48.5 213.1L49.5 213L50.5 212.8L51.5 212.6L52.5 212.4L53.5 212.2L54.5 212L55.5 211.8L56.5 211.6L57.5 211.4L58.5 211.2L59.5 211.1L60.5 210.9L61.5 210.8L62.5 210.7L63.5 210.6L64.5 210.6L65.5 210.6L66.5 210.7L67.5 210.8L68.5 210.9L69.5 211.1L70.5 211.2L71.5 211.4L72.5 211.7L73.5 211.9L74.5 212.2L75.5 212.4L76.5 212.7L77.5 212.9L78.5 213.2L79.5 213.4L80.5 213.6L81.5 213.9L82.5 214.1L83.5 214.3L84.5 214.5L85.5 214.6L86.5 214.8L87.5 214.9L88.5 215.1L89.5 215.2L90.5 215.3L91.5 215.4L92.5 215.5L92.5 215.8L91.5 215.7L90.5 215.6L89.5 215.6L88.5 215.5L87.5 215.5L86.5 215.4L85.5 215.3L84.5 215.3L83.5 215.2L82.5 215.2L81.5 215.1L80.5 215.1L79.5 215L78.5 215L77.5 214.9L76.5 214.9L75.5 214.9L74.5 214.8L73.5 214.8L72.5 214.8L71.5 214.7L70.5 214.7L69.5 214.7L68.5 214.7L67.5 214.7L66.5 214.6L65.5 214.6L64.5 214.6L63.5 214.6L62.5 214.6L61.5 214.6L60.5 214.5L59.5 214.5L58.5 214.5L57.5 214.5L56.5 214.5L55.5 214.5L54.5 214.4L53.5 214.4L52.5 214.4L51.5 214.4L50.5 214.4L49.5 214.4L48.5 214.4L47.5 214.3L46.5 214.3L45.5 214.3L44.5 214.3L43.5 214.3L42.5 214.3L41.5 214.3L40.5 214.3L39.5 214.2L38.5 214.2L37.5 214.2Z" fill="#faf3c0"/>
<path d="M37.5 214L38.5 213.9L39.5 213.9L40.5 213.9L41.5 213.8L42.5 213.7L43.5 213.7L44.5 213.6L45.5 213.5L46.5 213.4L47.5 213.2L48.5 213.1L49.5 213L50.5 212.8L51.5 212.6L52.5 212.4L53.5 212.2L54.5 212L55.5 211.8L56.5 211.6L57.5 211.4L58.5 211.2L59.5 211.1L60.5 210.9L61.5 210.8L62.5 210.7L63.5 210.6L64.5 210.6L65.5 210.6L66.5 210.7L67.5 210.8L68.5 210.9L69.5 211.1L70.5 211.2L71.5 211.4L72.5 211.7L73.5 211.9L74.5 212.2L75.5 212.4L76.5 212.7L77.5 212.9L78.5 213.2L79.5 213.4L80.5 213.6L81.5 213.9L82.5 214.1L83.5 214.3L84.5 214.5L85.5 214.6L86.5 214.8L87.5 214.9L88.5 215.1L89.5 215.2L90.5 215.3L91.5 215.4L92.5 215.5" fill="none" stroke="#e2cc48" stroke-width="0.8"/>
<path d="M41.3 214L42.3 214L43.3 214L44.3 214L45.3 214L46.3 214L47.3 214L48.3 214L49.3 214L50.3 214L51.3 214L52.3 214L53.3 214L54.3 214L55.3 214L56.3 214L57.3 214L58.3 214L59.3 214L60.3 214L61.3 214L62.3 214L63.3 214L64.3 214L65.3 214L66.3 214L67.3 214L68.3 213.9L69.3 213.9L70.3 213.9L71.3 213.9L72.3 213.8L73.3 213.8L74.3 213.8L75.3 213.7L76.3 213.7L77.3 213.6L78.3 213.6L79.3 213.5L80.3 213.5L81.3 213.4L82.3 213.3L83.3 213.1L84.3 212.9L85.3 212.7L86.3 212.3L87.3 211.9L88.3 211.2L89.3 210.4L90.3 209.2L91.3 207.7L92.3 205.8L93.3 203.4L94.3 200.5L95.3 197.1L96.3 193.1L97.3 188.6L98.3 183.8L99.3 178.8L100.3 173.8L101.3 169.2L102.3 165.4L103.3 162.8L104.3 161.6L105.3 162.1L106.3 164.2L107.3 167.6L108.3 171.9L109.3 176.8L110.3 182L111.3 187L112.3 191.8L113.3 196.2L114.3 200L115.3 203.3L116.3 206.1L117.3 208.3L118.3 210.1L119.3 211.5L120.3 212.6L121.3 213.4L122.3 214L123.3 214.5L124.3 214.9L125.3 215.2L126.3 215.4L127.3 215.6L128.3 215.8L129.3 215.9L130.3 216L131.3 216.1L132.3 216.2L133.3 216.3L134.3 216.4L135.3 216.5L136.3 216.5L137.3 216.6L138.3 216.7L139.3 216.7L140.3 216.8L141.3 216.8L142.3 216.8L143.3 216.9L144.3 216.9L145.3 217L146.3 217L147.3 217L148.3 217L149.3 217.1L150.3 217.1L151.3 217.1L152.3 217.1L153.3 217.2L154.3 217.2L155.3 217.2L156.3 217.2L157.3 217.2L158.3 217.3L159.3 217.3L160.3 217.3L161.3 217.3L162.3 217.3L163.3 217.3L163.9 217.3L163.9 217.6L163.3 217.6L162.3 217.6L161.3 217.6L160.3 217.6L159.3 217.6L158.3 217.6L157.3 217.6L156.3 217.6L155.3 217.6L154.3 217.6L153.3 217.6L152.3 217.6L151.3 217.6L150.3 217.6L149.3 217.6L148.3 217.6L147.3 217.6L146.3 217.6L145.3 217.5L144.3 217.5L143.3 217.5L142.3 217.5L141.3 217.5L140.3 217.5L139.3 217.5L138.3 217.5L137.3 217.5L136.3 217.5L135.3 217.5L134.3 217.5L133.3 217.5L132.3 217.5L131.3 217.5L130.3 217.4L129.3 217.4L128.3 217.4L127.3 217.4L126.3 217.4L125.3 217.4L124.3 217.4L123.3 217.4L122.3 217.4L121.3 217.3L120.3 217.3L119.3 217.3L118.3 217.3L117.3 217.2L116.3 217.2L115.3 217.1L114.3 217.1L113.3 217.1L112.3 217L111.3 217L110.3 216.9L109.3 216.9L108.3 216.8L107.3 216.7L106.3 216.7L105.3 216.6L104.3 216.6L103.3 216.5L102.3 216.4L101.3 216.4L100.3 216.3L99.3 216.2L98.3 216.2L97.3 216.1L96.3 216L95.3 216L94.3 215.9L93.3 215.8L92.3 215.8L91.3 215.7L90.3 215.6L89.3 215.6L88.3 215.5L87.3 215.4L86.3 215.4L85.3 215.3L84.3 215.3L83.3 215.2L82.3 215.2L81.3 215.1L80.3 215.1L79.3 215L78.3 215L77.3 214.9L76.3 214.9L75.3 214.8L74.3 214.8L73.3 214.8L72.3 214.8L71.3 214.7L70.3 214.7L69.3 214.7L68.3 214.7L67.3 214.7L66.3 214.6L65.3 214.6L64.3 214.6L63.3 214.6L62.3 214.6L61.3 214.6L60.3 214.5L59.3 214.5L58.3 214.5L57.3 214.5L56.3 214.5L55.3 214.5L54.3 214.4L53.3 214.4L52.3 214.4L51.3 214.4L50.3 214.4L49.3 214.4L48.3 214.4L47.3 214.3L46.3 214.3L45.3 214.3L44.3 214.3L43.3 214.3L42.3 214.3L41.3 214.3Z" fill="url(#gPur2)"/>
<path d="M41.3 214L42.3 214L43.3 214L44.3 214L45.3 214L46.3 214L47.3 214L48.3 214L49.3 214L50.3 214L51.3 214L52.3 214L53.3 214L54.3 214L55.3 214L56.3 214L57.3 214L58.3 214L59.3 214L60.3 214L61.3 214L62.3 214L63.3 214L64.3 214L65.3 214L66.3 214L67.3 214L68.3 213.9L69.3 213.9L70.3 213.9L71.3 213.9L72.3 213.8L73.3 213.8L74.3 213.8L75.3 213.7L76.3 213.7L77.3 213.6L78.3 213.6L79.3 213.5L80.3 213.5L81.3 213.4L82.3 213.3L83.3 213.1L84.3 212.9L85.3 212.7L86.3 212.3L87.3 211.9L88.3 211.2L89.3 210.4L90.3 209.2L91.3 207.7L92.3 205.8L93.3 203.4L94.3 200.5L95.3 197.1L96.3 193.1L97.3 188.6L98.3 183.8L99.3 178.8L100.3 173.8L101.3 169.2L102.3 165.4L103.3 162.8L104.3 161.6L105.3 162.1L106.3 164.2L107.3 167.6L108.3 171.9L109.3 176.8L110.3 182L111.3 187L112.3 191.8L113.3 196.2L114.3 200L115.3 203.3L116.3 206.1L117.3 208.3L118.3 210.1L119.3 211.5L120.3 212.6L121.3 213.4L122.3 214L123.3 214.5L124.3 214.9L125.3 215.2L126.3 215.4L127.3 215.6L128.3 215.8L129.3 215.9L130.3 216L131.3 216.1L132.3 216.2L133.3 216.3L134.3 216.4L135.3 216.5L136.3 216.5L137.3 216.6L138.3 216.7L139.3 216.7L140.3 216.8L141.3 216.8L142.3 216.8L143.3 216.9L144.3 216.9L145.3 217L146.3 217L147.3 217L148.3 217L149.3 217.1L150.3 217.1L151.3 217.1L152.3 217.1L153.3 217.2L154.3 217.2L155.3 217.2L156.3 217.2L157.3 217.2L158.3 217.3L159.3 217.3L160.3 217.3L161.3 217.3L162.3 217.3L163.3 217.3L163.9 217.3" fill="none" stroke="#9040e6" stroke-width="1.0"/>
<path d="M63.1 214.3L64.1 214.3L65.1 214.3L66.1 214.2L67.1 214.1L68.1 214L69.1 213.8L70.1 213.6L71.1 213.3L72.1 213L73.1 212.6L74.1 212.1L75.1 211.5L76.1 210.8L77.1 210L78.1 209.2L79.1 208.3L80.1 207.4L81.1 206.6L82.1 205.8L83.1 205L84.1 204.5L85.1 204.1L86.1 203.9L87.1 204L88.1 204.3L89.1 204.8L90.1 205.5L91.1 206.3L92.1 207.2L93.1 208.2L94.1 209.2L95.1 210.2L96.1 211.1L97.1 212L98.1 212.8L99.1 213.5L100.1 214.1L101.1 214.6L102.1 215L103.1 215.4L104.1 215.7L105.1 215.9L106.1 216.1L107.1 216.3L108.1 216.4L109.1 216.5L110.1 216.6L110.1 216.9L109.1 216.8L108.1 216.8L107.1 216.7L106.1 216.7L105.1 216.6L104.1 216.5L103.1 216.5L102.1 216.4L101.1 216.4L100.1 216.3L99.1 216.2L98.1 216.2L97.1 216.1L96.1 216L95.1 216L94.1 215.9L93.1 215.8L92.1 215.8L91.1 215.7L90.1 215.6L89.1 215.6L88.1 215.5L87.1 215.4L86.1 215.4L85.1 215.3L84.1 215.3L83.1 215.2L82.1 215.1L81.1 215.1L80.1 215L79.1 215L78.1 215L77.1 214.9L76.1 214.9L75.1 214.8L74.1 214.8L73.1 214.8L72.1 214.7L71.1 214.7L70.1 214.7L69.1 214.7L68.1 214.7L67.1 214.6L66.1 214.6L65.1 214.6L64.1 214.6L63.1 214.6Z" fill="url(#gCyan)" fill-opacity="0.75"/>
<path d="M63.1 214.3L64.1 214.3L65.1 214.3L66.1 214.2L67.1 214.1L68.1 214L69.1 213.8L70.1 213.6L71.1 213.3L72.1 213L73.1 212.6L74.1 212.1L75.1 211.5L76.1 210.8L77.1 210L78.1 209.2L79.1 208.3L80.1 207.4L81.1 206.6L82.1 205.8L83.1 205L84.1 204.5L85.1 204.1L86.1 203.9L87.1 204L88.1 204.3L89.1 204.8L90.1 205.5L91.1 206.3L92.1 207.2L93.1 208.2L94.1 209.2L95.1 210.2L96.1 211.1L97.1 212L98.1 212.8L99.1 213.5L100.1 214.1L101.1 214.6L102.1 215L103.1 215.4L104.1 215.7L105.1 215.9L106.1 216.1L107.1 216.3L108.1 216.4L109.1 216.5L110.1 216.6" fill="none" stroke="#30d2e6" stroke-width="0.8"/>
<path d="M15 214.1L17 214.1L19 214.1L21 214.1L23 214.1L25 214.1L27 214.1L29 214.1L31 214.2L33 214.2L35 214.2L37 214.2L39 214.2L41 214.3L43 214.3L45 214.3L47 214.3L49 214.4L51 214.4L53 214.4L55 214.4L57 214.5L59 214.5L61 214.5L63 214.6L65 214.6L67 214.6L69 214.7L71 214.7L73 214.8L75 214.8L77 214.9L79 215L81 215.1L83 215.2L85 215.3L87 215.4L89 215.6L91 215.7L93 215.8L95 215.9L97 216.1L99 216.2L101 216.3L103 216.5L105 216.6L107 216.7L109 216.8L111 216.9L113 217L115 217.1L117 217.2L119 217.3L121 217.3L123 217.4L125 217.4L127 217.4L129 217.4L131 217.5L133 217.5L135 217.5L137 217.5L139 217.5L141 217.5L143 217.5L145 217.5L147 217.6L149 217.6L151 217.6L153 217.6L155 217.6L157 217.6L159 217.6L161 217.6L163 217.6L163.9 217.6" fill="none" stroke="#d8206a" stroke-width="0.9" />
<path d="M15 214.1L15.7 214.1L16.4 214L17.1 214L17.8 214L18.5 214L19.2 213.9L19.9 213.9L20.6 213.9L21.3 213.8L22 213.8L22.7 213.7L23.4 213.7L24.1 213.7L24.8 213.6L25.5 213.6L26.2 213.5L26.9 213.5L27.6 213.5L28.3 213.4L29 213.4L29.7 213.3L30.4 213.3L31.1 213.2L31.8 213.2L32.5 213.1L33.2 213.1L33.9 213L34.6 213L35.3 212.9L36 212.8L36.7 212.8L37.4 212.7L38.1 212.7L38.8 212.6L39.5 212.5L40.2 212.5L40.9 212.4L41.6 212.4L42.3 212.3L43 212.2L43.7 212.2L44.4 212.1L45.1 212L45.8 212L46.5 211.9L47.2 211.8L47.9 211.7L48.6 211.7L49.3 211.6L50 211.5L50.7 211.5L51.4 211.4L52.1 211.3L52.8 211.2L53.5 211.2L54.2 211.1L54.9 211L55.6 210.9L56.3 210.9L57 210.8L57.7 210.7L58.4 210.7L59.1 210.6L59.8 210.5L60.5 210.4L61.2 210.4L61.9 210.3L62.6 210.2L63.3 210.2L64 210.1L64.7 210L65.4 209.9L66.1 209.8L66.8 209.7L67.5 209.6L68.2 209.5L68.9 209.4L69.6 209.3L70.3 209.2L71 209.1L71.7 208.9L72.4 208.8L73.1 208.6L73.8 208.5L74.5 208.3L75.2 208.1L75.9 207.9L76.6 207.7L77.3 207.5L78 207.2L78.7 206.9L79.4 206.6L80.1 206.2L80.8 205.7L81.5 205.2L82.2 204.6L82.9 204.1L83.6 203.5L84.3 202.9L85 202.4L85.7 201.8L86.4 201.3L87.1 200.8L87.8 200.2L88.5 199.6L89.2 199L89.9 198.3L90.6 197.5L91.3 196.6L92 195.5L92.7 194.2L93.4 192.7L94.1 191.2L94.8 189.5L95.5 187.6L96.2 185.4L96.9 183L97.6 180.6L98.3 178.4L99 176L99.7 173.7L100.4 171.5L101.1 169.4L101.8 167.2L102.5 164.8L103.2 162.7L103.9 161.2L104.6 160.6L105.3 161.2L106 162.7L106.7 164.9L107.4 167.5L108.1 170.1L108.8 173.4L109.5 177.2L110.2 181.1L110.9 184.9L111.6 188.8L112.3 192.5L113 196.3L113.7 200.2L114.4 203.8L115.1 206.6L115.8 208.5L116.5 209.9L117.2 211.1L117.9 212.1L118.6 212.9L119.3 213.6L120 214.2L120.7 214.8L121.4 215.3L122.1 215.6L122.8 215.9L123.5 216.1L124.2 216.2L124.9 216.3L125.6 216.4L126.3 216.5L127 216.6L127.7 216.7L128.4 216.7L129.1 216.8L129.8 216.8L130.5 216.8L131.2 216.9L131.9 216.9L132.6 216.9L133.3 216.9L134 217L134.7 217L135.4 217L136.1 217.1L136.8 217.1L137.5 217.1L138.2 217.1L138.9 217.2L139.6 217.2L140.3 217.2L141 217.2L141.7 217.2L142.4 217.3L143.1 217.3L143.8 217.3L144.5 217.3L145.2 217.3L145.9 217.4L146.6 217.4L147.3 217.4L148 217.4L148.7 217.4L149.4 217.4L150.1 217.5L150.8 217.5L151.5 217.5L152.2 217.5L152.9 217.5L153.6 217.5L154.3 217.5L155 217.5L155.7 217.6L156.4 217.6L157.1 217.6L157.8 217.6L158.5 217.6L159.2 217.6L159.9 217.6L160.6 217.6L161.3 217.6L162 217.6L162.7 217.6L163.4 217.6L163.9 217.6" fill="none" stroke="#6a1818" stroke-width="1.0" />
<path d="M15 213.9L16.1 214.2L17.2 213.8L18.3 214.1L19.4 213.8L20.5 213.9L21.6 213.5L22.7 214L23.8 213.5L24.9 213.7L26 213.5L27.1 213.6L28.2 213.4L29.3 213.5L30.4 213.2L31.5 213.2L32.6 213L33.7 213.3L34.8 212.8L35.9 213.1L37 212.7L38.1 212.7L39.2 212.5L40.3 212.7L41.4 212.2L42.5 212.3L43.6 212.1L44.7 212.2L45.8 211.9L46.9 212.1L48 211.6L49.1 211.9L50.2 211.3L51.3 211.6L52.4 211.1L53.5 211.4L54.6 211L55.7 211L56.8 210.6L57.9 210.8L59 210.6L60.1 210.6L61.2 210.3L62.3 210.4L63.4 210L64.5 210.1L65.6 209.7L66.7 209.9L67.8 209.5L68.9 209.7L70 209.1L71.1 209.3L72.2 208.8L73.3 208.9L74.4 208.2L75.5 208.1L76.6 207.6L77.7 207.6L78.8 206.9L79.9 206.5L81 205.5L82.1 204.8L83.2 203.8L84.3 203.1L85.4 201.8L86.5 201.2L87.6 200.3L88.7 199.8L89.8 198.1L90.9 197.4L92 195.3L93.1 193.4L94.2 190.7L95.3 188.4L96.4 184.7L97.5 181L98.6 177.3L99.7 173.7L100.8 170.2L101.9 166.9L103 163.2L104.1 161.2L105.2 160.9L106.3 163.9L107.4 167.3L108.5 171.9L109.6 177.7L110.7 183.8L111.8 189.6L112.9 195.8L114 201.6L115.1 206.7L116.2 209L117.3 211.5L118.4 212.5L119.5 214L120.6 214.7L121.7 215.6L122.8 215.8L123.9 216.3L125 216.2L126.1 216.7L127.2 216.5L128.3 216.9L129.4 216.8L130.5 217L131.6 216.7L132.7 217.1L133.8 216.7L134.9 217.1L136 217L137.1 217.3L138.2 217L139.3 217.2L140.4 217L141.5 217.4L142.6 217L143.7 217.5L144.8 217.2L145.9 217.4L147 217.3L148.1 217.6L149.2 217.3L150.3 217.6L151.4 217.4L152.5 217.7L153.6 217.2L154.7 217.6L155.8 217.5L156.9 217.9L158 217.3L159.1 217.7L160.2 217.5L161.3 217.7L162.4 217.4L163.5 217.7L163.9 217.4" fill="none" stroke="#151515" stroke-width="0.7" stroke-linejoin="round"/>
<path d="M206.7 59L207.7 59L208.7 59L209.7 59L210.7 59L211.7 59L212.7 59.1L213.7 59.1L214.7 59.1L215.7 59.1L216.7 59.1L217.7 59.1L218.7 59.2L219.7 59.2L220.7 59.2L221.7 59.3L222.7 59.3L223.7 59.3L224.7 59.2L225.7 59.2L226.7 59L227.7 58.7L228.7 58.3L229.7 57.6L230.7 56.5L231.7 55.1L232.7 53.2L233.7 50.7L234.7 47.8L235.7 44.4L236.7 40.6L237.7 36.8L238.7 33.2L239.7 30.3L240.7 28.3L241.7 27.6L242.7 28.4L243.7 30.5L244.7 33.7L245.7 37.4L246.7 41.4L247.7 45.2L248.7 48.8L249.7 51.9L250.7 54.5L251.7 56.6L252.7 58.2L253.7 59.4L254.7 60.3L255.7 60.9L256.7 61.4L257.7 61.7L258.7 61.9L259.7 62.1L260.7 62.3L261.7 62.4L262.7 62.5L263.7 62.6L264.7 62.7L265.7 62.8L266.7 62.9L267.7 63L268.7 63L269.7 63.1L270.7 63.2L271.7 63.3L272.7 63.3L273.7 63.4L274.7 63.5L275.7 63.5L276.7 63.6L276.7 63.9L275.7 63.8L274.7 63.7L273.7 63.7L272.7 63.6L271.7 63.6L270.7 63.5L269.7 63.5L268.7 63.4L267.7 63.4L266.7 63.3L265.7 63.3L264.7 63.3L263.7 63.2L262.7 63.2L261.7 63.1L260.7 63.1L259.7 63L258.7 63L257.7 63L256.7 62.9L255.7 62.9L254.7 62.8L253.7 62.8L252.7 62.7L251.7 62.7L250.7 62.6L249.7 62.6L248.7 62.5L247.7 62.5L246.7 62.4L245.7 62.4L244.7 62.3L243.7 62.3L242.7 62.2L241.7 62.1L240.7 62.1L239.7 62L238.7 61.9L237.7 61.8L236.7 61.7L235.7 61.6L234.7 61.5L233.7 61.4L232.7 61.3L231.7 61.2L230.7 61L229.7 60.9L228.7 60.8L227.7 60.7L226.7 60.5L225.7 60.4L224.7 60.3L223.7 60.2L222.7 60.1L221.7 60L220.7 59.9L219.7 59.8L218.7 59.7L217.7 59.6L216.7 59.6L215.7 59.5L214.7 59.5L213.7 59.5L212.7 59.4L211.7 59.4L210.7 59.3L209.7 59.3L208.7 59.3L207.7 59.2L206.7 59.2Z" fill="url(#gPink)"/>
<path d="M206.7 59L207.7 59L208.7 59L209.7 59L210.7 59L211.7 59L212.7 59.1L213.7 59.1L214.7 59.1L215.7 59.1L216.7 59.1L217.7 59.1L218.7 59.2L219.7 59.2L220.7 59.2L221.7 59.3L222.7 59.3L223.7 59.3L224.7 59.2L225.7 59.2L226.7 59L227.7 58.7L228.7 58.3L229.7 57.6L230.7 56.5L231.7 55.1L232.7 53.2L233.7 50.7L234.7 47.8L235.7 44.4L236.7 40.6L237.7 36.8L238.7 33.2L239.7 30.3L240.7 28.3L241.7 27.6L242.7 28.4L243.7 30.5L244.7 33.7L245.7 37.4L246.7 41.4L247.7 45.2L248.7 48.8L249.7 51.9L250.7 54.5L251.7 56.6L252.7 58.2L253.7 59.4L254.7 60.3L255.7 60.9L256.7 61.4L257.7 61.7L258.7 61.9L259.7 62.1L260.7 62.3L261.7 62.4L262.7 62.5L263.7 62.6L264.7 62.7L265.7 62.8L266.7 62.9L267.7 63L268.7 63L269.7 63.1L270.7 63.2L271.7 63.3L272.7 63.3L273.7 63.4L274.7 63.5L275.7 63.5L276.7 63.6" fill="none" stroke="#e23a3a" stroke-width="0.8"/>
<path d="M250.2 62.4L251.2 62.4L252.2 62.4L253.2 62.5L254.2 62.5L255.2 62.5L256.2 62.6L257.2 62.6L258.2 62.6L259.2 62.6L260.2 62.6L261.2 62.7L262.2 62.7L263.2 62.7L264.2 62.7L265.2 62.7L266.2 62.7L267.2 62.7L268.2 62.7L269.2 62.6L270.2 62.6L271.2 62.6L272.2 62.5L273.2 62.4L274.2 62.3L275.2 62.1L276.2 61.8L277.2 61.3L278.2 60.6L279.2 59.5L280.2 57.9L281.2 55.8L282.2 52.9L283.2 49.1L284.2 44.6L285.2 39.3L286.2 33.5L287.2 27.7L288.2 22.3L289.2 18L290.2 15.4L291.2 15.1L292.2 17L293.2 20.9L294.2 26.3L295.2 32.3L296.2 38.5L297.2 44.4L298.2 49.6L299.2 54L300.2 57.6L301.2 60.3L302.2 62.3L303.2 63.7L304.2 64.8L305.2 65.5L306.2 66L307.2 66.4L308.2 66.7L309.2 66.9L310.2 67.1L311.2 67.3L312.2 67.4L313.2 67.6L314.2 67.7L315.2 67.8L316.2 67.9L317.2 68L318.2 68.1L319.2 68.2L320.2 68.3L321.2 68.4L322.2 68.4L323.2 68.5L324.2 68.6L325.2 68.6L326.2 68.7L327.2 68.7L328.2 68.8L329.2 68.8L330.2 68.8L331.2 68.9L331.8 68.9L331.8 69.1L331.2 69.1L330.2 69.1L329.2 69.1L328.2 69.1L327.2 69L326.2 69L325.2 69L324.2 68.9L323.2 68.9L322.2 68.8L321.2 68.8L320.2 68.7L319.2 68.7L318.2 68.6L317.2 68.6L316.2 68.5L315.2 68.5L314.2 68.4L313.2 68.4L312.2 68.3L311.2 68.2L310.2 68.2L309.2 68.1L308.2 68L307.2 67.9L306.2 67.9L305.2 67.8L304.2 67.7L303.2 67.6L302.2 67.6L301.2 67.5L300.2 67.4L299.2 67.2L298.2 67.1L297.2 66.9L296.2 66.7L295.2 66.4L294.2 66.2L293.2 66L292.2 65.7L291.2 65.5L290.2 65.3L289.2 65.1L288.2 64.9L287.2 64.7L286.2 64.6L285.2 64.5L284.2 64.4L283.2 64.4L282.2 64.3L281.2 64.2L280.2 64.1L279.2 64L278.2 64L277.2 63.9L276.2 63.8L275.2 63.8L274.2 63.7L273.2 63.7L272.2 63.6L271.2 63.6L270.2 63.5L269.2 63.5L268.2 63.4L267.2 63.4L266.2 63.3L265.2 63.3L264.2 63.2L263.2 63.2L262.2 63.1L261.2 63.1L260.2 63.1L259.2 63L258.2 63L257.2 62.9L256.2 62.9L255.2 62.9L254.2 62.8L253.2 62.8L252.2 62.7L251.2 62.7L250.2 62.6Z" fill="url(#gPink)"/>
<path d="M250.2 62.4L251.2 62.4L252.2 62.4L253.2 62.5L254.2 62.5L255.2 62.5L256.2 62.6L257.2 62.6L258.2 62.6L259.2 62.6L260.2 62.6L261.2 62.7L262.2 62.7L263.2 62.7L264.2 62.7L265.2 62.7L266.2 62.7L267.2 62.7L268.2 62.7L269.2 62.6L270.2 62.6L271.2 62.6L272.2 62.5L273.2 62.4L274.2 62.3L275.2 62.1L276.2 61.8L277.2 61.3L278.2 60.6L279.2 59.5L280.2 57.9L281.2 55.8L282.2 52.9L283.2 49.1L284.2 44.6L285.2 39.3L286.2 33.5L287.2 27.7L288.2 22.3L289.2 18L290.2 15.4L291.2 15.1L292.2 17L293.2 20.9L294.2 26.3L295.2 32.3L296.2 38.5L297.2 44.4L298.2 49.6L299.2 54L300.2 57.6L301.2 60.3L302.2 62.3L303.2 63.7L304.2 64.8L305.2 65.5L306.2 66L307.2 66.4L308.2 66.7L309.2 66.9L310.2 67.1L311.2 67.3L312.2 67.4L313.2 67.6L314.2 67.7L315.2 67.8L316.2 67.9L317.2 68L318.2 68.1L319.2 68.2L320.2 68.3L321.2 68.4L322.2 68.4L323.2 68.5L324.2 68.6L325.2 68.6L326.2 68.7L327.2 68.7L328.2 68.8L329.2 68.8L330.2 68.8L331.2 68.9L331.8 68.9" fill="none" stroke="#e23a3a" stroke-width="0.8"/>
<path d="M200.5 58.8L201.5 58.8L202.5 58.8L203.5 58.8L204.5 58.8L205.5 58.8L206.5 58.7L207.5 58.7L208.5 58.6L209.5 58.5L210.5 58.4L211.5 58.3L212.5 58.1L213.5 57.9L214.5 57.7L215.5 57.4L216.5 57.1L217.5 56.9L218.5 56.6L219.5 56.3L220.5 56L221.5 55.8L222.5 55.7L223.5 55.7L224.5 55.8L225.5 56L226.5 56.4L227.5 56.8L228.5 57.2L229.5 57.7L230.5 58.2L231.5 58.7L232.5 59.2L233.5 59.6L234.5 60L235.5 60.3L236.5 60.6L237.5 60.9L238.5 61.1L239.5 61.3L240.5 61.5L241.5 61.6L242.5 61.8L243.5 61.9L244.5 62L245.5 62.1L246.5 62.2L247.5 62.2L247.5 62.5L246.5 62.4L245.5 62.4L244.5 62.3L243.5 62.2L242.5 62.2L241.5 62.1L240.5 62L239.5 62L238.5 61.9L237.5 61.8L236.5 61.7L235.5 61.6L234.5 61.5L233.5 61.4L232.5 61.2L231.5 61.1L230.5 61L229.5 60.9L228.5 60.8L227.5 60.6L226.5 60.5L225.5 60.4L224.5 60.3L223.5 60.2L222.5 60.1L221.5 60L220.5 59.9L219.5 59.8L218.5 59.7L217.5 59.6L216.5 59.6L215.5 59.5L214.5 59.5L213.5 59.4L212.5 59.4L211.5 59.4L210.5 59.3L209.5 59.3L208.5 59.3L207.5 59.2L206.5 59.2L205.5 59.2L204.5 59.1L203.5 59.1L202.5 59.1L201.5 59.1L200.5 59Z" fill="url(#gBlue)" fill-opacity="0.7"/>
<path d="M200.5 58.8L201.5 58.8L202.5 58.8L203.5 58.8L204.5 58.8L205.5 58.8L206.5 58.7L207.5 58.7L208.5 58.6L209.5 58.5L210.5 58.4L211.5 58.3L212.5 58.1L213.5 57.9L214.5 57.7L215.5 57.4L216.5 57.1L217.5 56.9L218.5 56.6L219.5 56.3L220.5 56L221.5 55.8L222.5 55.7L223.5 55.7L224.5 55.8L225.5 56L226.5 56.4L227.5 56.8L228.5 57.2L229.5 57.7L230.5 58.2L231.5 58.7L232.5 59.2L233.5 59.6L234.5 60L235.5 60.3L236.5 60.6L237.5 60.9L238.5 61.1L239.5 61.3L240.5 61.5L241.5 61.6L242.5 61.8L243.5 61.9L244.5 62L245.5 62.1L246.5 62.2L247.5 62.2" fill="none" stroke="#4a7ee0" stroke-width="0.8"/>
<path d="M249 62.3L250 62.3L251 62.4L252 62.4L253 62.4L254 62.4L255 62.4L256 62.4L257 62.4L258 62.4L259 62.3L260 62.3L261 62.2L262 62L263 61.9L264 61.7L265 61.4L266 61.1L267 60.8L268 60.4L269 60L270 59.5L271 59.1L272 58.7L273 58.3L274 58L275 57.8L276 57.8L277 58L278 58.3L279 58.7L280 59.2L281 59.7L282 60.3L283 60.9L284 61.4L285 61.9L286 62.4L287 62.9L288 63.3L289 63.7L290 64.1L291 64.5L292 64.9L293 65.2L294 65.6L295 65.9L296 66.1L297 66.4L298 66.6L299 66.9L300 67L301 67.2L302 67.3L303 67.4L303 67.6L302 67.5L301 67.5L300 67.3L299 67.2L298 67L297 66.8L296 66.6L295 66.4L294 66.1L293 65.9L292 65.7L291 65.4L290 65.2L289 65L288 64.9L287 64.7L286 64.6L285 64.5L284 64.4L283 64.3L282 64.3L281 64.2L280 64.1L279 64L278 64L277 63.9L276 63.8L275 63.8L274 63.7L273 63.7L272 63.6L271 63.5L270 63.5L269 63.4L268 63.4L267 63.4L266 63.3L265 63.3L264 63.2L263 63.2L262 63.1L261 63.1L260 63.1L259 63L258 63L257 62.9L256 62.9L255 62.8L254 62.8L253 62.8L252 62.7L251 62.7L250 62.6L249 62.6Z" fill="url(#gBlue)" fill-opacity="0.7"/>
<path d="M249 62.3L250 62.3L251 62.4L252 62.4L253 62.4L254 62.4L255 62.4L256 62.4L257 62.4L258 62.4L259 62.3L260 62.3L261 62.2L262 62L263 61.9L264 61.7L265 61.4L266 61.1L267 60.8L268 60.4L269 60L270 59.5L271 59.1L272 58.7L273 58.3L274 58L275 57.8L276 57.8L277 58L278 58.3L279 58.7L280 59.2L281 59.7L282 60.3L283 60.9L284 61.4L285 61.9L286 62.4L287 62.9L288 63.3L289 63.7L290 64.1L291 64.5L292 64.9L293 65.2L294 65.6L295 65.9L296 66.1L297 66.4L298 66.6L299 66.9L300 67L301 67.2L302 67.3L303 67.4" fill="none" stroke="#4a7ee0" stroke-width="0.8"/>
<path d="M189.5 58.9L191.5 58.9L193.5 58.9L195.5 58.9L197.5 59L199.5 59L201.5 59.1L203.5 59.1L205.5 59.2L207.5 59.2L209.5 59.3L211.5 59.4L213.5 59.4L215.5 59.5L217.5 59.6L219.5 59.8L221.5 60L223.5 60.2L225.5 60.4L227.5 60.6L229.5 60.9L231.5 61.1L233.5 61.4L235.5 61.6L237.5 61.8L239.5 62L241.5 62.1L243.5 62.2L245.5 62.4L247.5 62.5L249.5 62.6L251.5 62.7L253.5 62.8L255.5 62.9L257.5 62.9L259.5 63L261.5 63.1L263.5 63.2L265.5 63.3L267.5 63.4L269.5 63.5L271.5 63.6L273.5 63.7L275.5 63.8L277.5 63.9L279.5 64.1L281.5 64.2L283.5 64.4L285.5 64.6L287.5 64.8L289.5 65.1L291.5 65.6L293.5 66L295.5 66.5L297.5 66.9L299.5 67.3L301.5 67.5L303.5 67.7L305.5 67.8L307.5 68L309.5 68.1L311.5 68.2L313.5 68.4L315.5 68.5L317.5 68.6L319.5 68.7L321.5 68.8L323.5 68.9L325.5 69L327.5 69L329.5 69.1L331.5 69.1L333.5 69.2L335.5 69.2L337.5 69.2L338.2 69.2" fill="none" stroke="#b430c4" stroke-width="0.9" />
<path d="M189.5 58.9L190.2 58.9L190.9 58.9L191.6 58.9L192.3 58.9L193 58.9L193.7 58.9L194.4 58.8L195.1 58.8L195.8 58.8L196.5 58.8L197.2 58.8L197.9 58.7L198.6 58.7L199.3 58.7L200 58.7L200.7 58.6L201.4 58.6L202.1 58.6L202.8 58.5L203.5 58.5L204.2 58.5L204.9 58.4L205.6 58.4L206.3 58.3L207 58.3L207.7 58.2L208.4 58.1L209.1 58L209.8 57.8L210.5 57.6L211.2 57.4L211.9 57.2L212.6 57L213.3 56.8L214 56.6L214.7 56.4L215.4 56.2L216.1 56L216.8 55.9L217.5 55.7L218.2 55.6L218.9 55.5L219.6 55.3L220.3 55.2L221 55.1L221.7 55L222.4 54.8L223.1 54.6L223.8 54.4L224.5 54.2L225.2 53.9L225.9 53.6L226.6 53.1L227.3 52.7L228 52.2L228.7 51.6L229.4 51L230.1 50.4L230.8 49.8L231.5 49.1L232.2 48.2L232.9 47.3L233.6 46.3L234.3 45.2L235 43.6L235.7 41.6L236.4 39.5L237.1 37.4L237.8 35.4L238.5 33.2L239.2 30.7L239.9 28.2L240.6 26.2L241.3 25L242 24.9L242.7 25.3L243.4 26.2L244.1 27.4L244.8 28.8L245.5 30.5L246.2 33.3L246.9 36.6L247.6 39.6L248.3 42.2L249 44.6L249.7 46.9L250.4 49.1L251.1 51.3L251.8 53.5L252.5 55.5L253.2 56.9L253.9 57.7L254.6 58.3L255.3 58.8L256 59.2L256.7 59.6L257.4 59.8L258.1 60L258.8 60L259.5 60.1L260.2 60.1L260.9 60.2L261.6 60.2L262.3 60.2L263 60.3L263.7 60.3L264.4 60.3L265.1 60.3L265.8 60.3L266.5 60.2L267.2 60.1L267.9 60L268.6 59.9L269.3 59.7L270 59.6L270.7 59.4L271.4 59.2L272.1 58.9L272.8 58.7L273.5 58.4L274.2 58.1L274.9 57.9L275.6 57.6L276.3 57.2L277 56.8L277.7 56.3L278.4 55.7L279.1 54.8L279.8 53.8L280.5 52.5L281.2 51.1L281.9 49.6L282.6 47.8L283.3 45.3L284 42.3L284.7 39.1L285.4 35.8L286.1 32.4L286.8 28.6L287.5 25.1L288.2 22.1L288.9 19.1L289.6 16.2L290.3 14L291 13.2L291.7 13.8L292.4 15.3L293.1 17.6L293.8 20.4L294.5 23.4L295.2 28.1L295.9 33.8L296.6 38.2L297.3 42.1L298 45.6L298.7 48.6L299.4 51.2L300.1 53.6L300.8 55.8L301.5 57.6L302.2 59.2L302.9 60.8L303.6 62.2L304.3 63.5L305 64.5L305.7 65.2L306.4 65.5L307.1 65.8L307.8 66.1L308.5 66.3L309.2 66.4L309.9 66.5L310.6 66.6L311.3 66.8L312 66.9L312.7 66.9L313.4 67L314.1 67.1L314.8 67.2L315.5 67.3L316.2 67.3L316.9 67.4L317.6 67.4L318.3 67.5L319 67.5L319.7 67.6L320.4 67.6L321.1 67.7L321.8 67.7L322.5 67.8L323.2 67.8L323.9 67.8L324.6 67.9L325.3 67.9L326 68L326.7 68L327.4 68.1L328.1 68.1L328.8 68.1L329.5 68.2L330.2 68.2L330.9 68.2L331.6 68.3L332.3 68.3L333 68.3L333.7 68.3L334.4 68.3L335.1 68.4L335.8 68.4L336.5 68.4L337.2 68.4L337.9 68.4L338.2 68.4" fill="none" stroke="#9a1c2c" stroke-width="0.9" />
<path d="M189.5 58.3L190.6 59.5L191.7 58.8L192.8 59.4L193.9 58.3L195 59.5L196.1 57.9L197.2 59.3L198.3 58.3L199.4 59.5L200.5 57.7L201.6 58.9L202.7 57.6L203.8 59.3L204.9 58.1L206 58.4L207.1 58.2L208.2 59.2L209.3 57.5L210.4 58.3L211.5 56.4L212.6 57L213.7 56.2L214.8 56.4L215.9 55.2L217 56.1L218.1 54.6L219.2 55.9L220.3 54.6L221.4 55.9L222.5 54.3L223.6 55.2L224.7 53.6L225.8 54.3L226.9 52.4L228 52.5L229.1 51.3L230.2 51.4L231.3 49.1L232.4 48.3L233.5 46.2L234.6 44.6L235.7 41.3L236.8 38.3L237.9 35L239 31.6L240.1 27.5L241.2 25.3L242.3 25L243.4 26.6L244.5 27.7L245.6 30.9L246.7 35.6L247.8 40.6L248.9 44.3L250 48.1L251.1 50.3L252.2 55.4L253.3 56.8L254.4 58.4L255.5 57.9L256.6 59.9L257.7 59.8L258.8 60.9L259.9 59.2L261 60.5L262.1 59.3L263.2 60.3L264.3 60.1L265.4 60.5L266.5 59.7L267.6 60.5L268.7 59L269.8 60.4L270.9 58.4L272 59.7L273.1 57.6L274.2 58.6L275.3 56.8L276.4 57.4L277.5 56.4L278.6 56.3L279.7 53.2L280.8 52.9L281.9 48.7L283 46.7L284.1 41.8L285.2 37L286.3 30.9L287.4 26L288.5 20.4L289.6 16.3L290.7 13.3L291.8 14.1L292.9 16.6L294 21.2L295.1 26.9L296.2 36.1L297.3 41.7L298.4 47.7L299.5 51.3L300.6 55.4L301.7 58.1L302.8 61.1L303.9 62.3L305 65.4L306.1 64.5L307.2 66L308.3 66.1L309.4 67.3L310.5 65.8L311.6 67L312.7 66.7L313.8 68.1L314.9 66.3L316 68.3L317.1 67.3L318.2 68.1L319.3 66.9L320.4 67.7L321.5 66.7L322.6 68.8L323.7 67L324.8 68.7L325.9 67.2L327 68.9L328.1 67.7L329.2 68.5L330.3 67.3L331.4 69L332.5 67.3L333.6 68.6L334.7 67.9L335.8 69.3L336.9 68L338 68.7L338.2 68.3" fill="none" stroke="#181828" stroke-width="0.75" stroke-linejoin="round"/>
<path d="M207.9 134.9L208.9 135L209.9 135L210.9 135L211.9 135L212.9 135L213.9 135L214.9 135L215.9 134.9L216.9 134.9L217.9 134.9L218.9 134.9L219.9 134.9L220.9 134.9L221.9 134.8L222.9 134.8L223.9 134.7L224.9 134.6L225.9 134.4L226.9 134.1L227.9 133.7L228.9 133.1L229.9 132.2L230.9 131L231.9 129.3L232.9 127L233.9 124.2L234.9 120.9L235.9 117.2L236.9 113.2L237.9 109.4L238.9 106L239.9 103.6L240.9 102.5L241.9 103L242.9 104.9L243.9 108L244.9 111.8L245.9 115.9L246.9 120L247.9 123.7L248.9 127L249.9 129.7L250.9 131.9L251.9 133.5L252.9 134.8L253.9 135.6L254.9 136.2L255.9 136.7L256.9 137L257.9 137.2L258.9 137.4L259.9 137.5L260.9 137.6L261.9 137.7L262.9 137.8L263.9 137.9L264.9 138L265.9 138L266.9 138.1L267.9 138.1L268.9 138.2L269.9 138.2L270.9 138.3L271.9 138.3L272.9 138.4L273.9 138.4L274.4 138.5L274.4 138.7L273.9 138.7L272.9 138.7L271.9 138.6L270.9 138.6L269.9 138.6L268.9 138.5L267.9 138.5L266.9 138.5L265.9 138.5L264.9 138.4L263.9 138.4L262.9 138.4L261.9 138.3L260.9 138.3L259.9 138.3L258.9 138.2L257.9 138.2L256.9 138.1L255.9 138.1L254.9 138L253.9 137.9L252.9 137.8L251.9 137.7L250.9 137.6L249.9 137.4L248.9 137.3L247.9 137.1L246.9 137L245.9 136.9L244.9 136.8L243.9 136.7L242.9 136.6L241.9 136.6L240.9 136.5L239.9 136.4L238.9 136.3L237.9 136.3L236.9 136.2L235.9 136.1L234.9 136.1L233.9 136L232.9 135.9L231.9 135.9L230.9 135.8L229.9 135.8L228.9 135.7L227.9 135.7L226.9 135.7L225.9 135.6L224.9 135.6L223.9 135.6L222.9 135.5L221.9 135.5L220.9 135.5L219.9 135.5L218.9 135.4L217.9 135.4L216.9 135.4L215.9 135.4L214.9 135.3L213.9 135.3L212.9 135.3L211.9 135.3L210.9 135.3L209.9 135.2L208.9 135.2L207.9 135.2Z" fill="url(#gPink)"/>
<path d="M207.9 134.9L208.9 135L209.9 135L210.9 135L211.9 135L212.9 135L213.9 135L214.9 135L215.9 134.9L216.9 134.9L217.9 134.9L218.9 134.9L219.9 134.9L220.9 134.9L221.9 134.8L222.9 134.8L223.9 134.7L224.9 134.6L225.9 134.4L226.9 134.1L227.9 133.7L228.9 133.1L229.9 132.2L230.9 131L231.9 129.3L232.9 127L233.9 124.2L234.9 120.9L235.9 117.2L236.9 113.2L237.9 109.4L238.9 106L239.9 103.6L240.9 102.5L241.9 103L242.9 104.9L243.9 108L244.9 111.8L245.9 115.9L246.9 120L247.9 123.7L248.9 127L249.9 129.7L250.9 131.9L251.9 133.5L252.9 134.8L253.9 135.6L254.9 136.2L255.9 136.7L256.9 137L257.9 137.2L258.9 137.4L259.9 137.5L260.9 137.6L261.9 137.7L262.9 137.8L263.9 137.9L264.9 138L265.9 138L266.9 138.1L267.9 138.1L268.9 138.2L269.9 138.2L270.9 138.3L271.9 138.3L272.9 138.4L273.9 138.4L274.4 138.5" fill="none" stroke="#e23a3a" stroke-width="0.8"/>
<path d="M251.2 137.4L252.2 137.5L253.2 137.6L254.2 137.7L255.2 137.7L256.2 137.8L257.2 137.8L258.2 137.8L259.2 137.8L260.2 137.9L261.2 137.9L262.2 137.9L263.2 137.9L264.2 137.9L265.2 137.8L266.2 137.8L267.2 137.8L268.2 137.8L269.2 137.7L270.2 137.7L271.2 137.6L272.2 137.5L273.2 137.4L274.2 137.2L275.2 136.9L276.2 136.4L277.2 135.8L278.2 134.8L279.2 133.3L280.2 131.3L281.2 128.7L282.2 125.4L283.2 121.3L284.2 116.5L285.2 111.4L286.2 106.2L287.2 101.4L288.2 97.5L289.2 95.2L290.2 94.9L291.2 96.7L292.2 100.3L293.2 105.2L294.2 110.7L295.2 116.3L296.2 121.7L297.2 126.4L298.2 130.4L299.2 133.6L300.2 136.1L301.2 137.9L302.2 139.2L303.2 140.1L304.2 140.8L305.2 141.2L306.2 141.6L307.2 141.8L308.2 142L309.2 142.2L310.2 142.3L311.2 142.5L312.2 142.6L313.2 142.7L314.2 142.8L315.2 142.9L316.2 143L317.2 143.1L318.2 143.1L319.2 143.2L320.2 143.3L321.2 143.3L322.2 143.4L323.2 143.4L324.2 143.5L325.2 143.5L326.2 143.6L327.2 143.6L328.2 143.6L328.8 143.7L328.8 143.9L328.2 143.9L327.2 143.9L326.2 143.8L325.2 143.8L324.2 143.8L323.2 143.8L322.2 143.7L321.2 143.7L320.2 143.7L319.2 143.6L318.2 143.6L317.2 143.5L316.2 143.5L315.2 143.5L314.2 143.4L313.2 143.4L312.2 143.3L311.2 143.3L310.2 143.2L309.2 143.2L308.2 143.1L307.2 143L306.2 143L305.2 142.9L304.2 142.9L303.2 142.8L302.2 142.7L301.2 142.7L300.2 142.6L299.2 142.5L298.2 142.4L297.2 142.3L296.2 142.1L295.2 142L294.2 141.8L293.2 141.6L292.2 141.3L291.2 141.1L290.2 140.9L289.2 140.6L288.2 140.4L287.2 140.2L286.2 139.9L285.2 139.7L284.2 139.5L283.2 139.4L282.2 139.2L281.2 139.1L280.2 139L279.2 139L278.2 138.9L277.2 138.8L276.2 138.8L275.2 138.7L274.2 138.7L273.2 138.7L272.2 138.6L271.2 138.6L270.2 138.6L269.2 138.5L268.2 138.5L267.2 138.5L266.2 138.5L265.2 138.4L264.2 138.4L263.2 138.4L262.2 138.3L261.2 138.3L260.2 138.3L259.2 138.2L258.2 138.2L257.2 138.1L256.2 138.1L255.2 138L254.2 137.9L253.2 137.8L252.2 137.7L251.2 137.6Z" fill="url(#gPink)"/>
<path d="M251.2 137.4L252.2 137.5L253.2 137.6L254.2 137.7L255.2 137.7L256.2 137.8L257.2 137.8L258.2 137.8L259.2 137.8L260.2 137.9L261.2 137.9L262.2 137.9L263.2 137.9L264.2 137.9L265.2 137.8L266.2 137.8L267.2 137.8L268.2 137.8L269.2 137.7L270.2 137.7L271.2 137.6L272.2 137.5L273.2 137.4L274.2 137.2L275.2 136.9L276.2 136.4L277.2 135.8L278.2 134.8L279.2 133.3L280.2 131.3L281.2 128.7L282.2 125.4L283.2 121.3L284.2 116.5L285.2 111.4L286.2 106.2L287.2 101.4L288.2 97.5L289.2 95.2L290.2 94.9L291.2 96.7L292.2 100.3L293.2 105.2L294.2 110.7L295.2 116.3L296.2 121.7L297.2 126.4L298.2 130.4L299.2 133.6L300.2 136.1L301.2 137.9L302.2 139.2L303.2 140.1L304.2 140.8L305.2 141.2L306.2 141.6L307.2 141.8L308.2 142L309.2 142.2L310.2 142.3L311.2 142.5L312.2 142.6L313.2 142.7L314.2 142.8L315.2 142.9L316.2 143L317.2 143.1L318.2 143.1L319.2 143.2L320.2 143.3L321.2 143.3L322.2 143.4L323.2 143.4L324.2 143.5L325.2 143.5L326.2 143.6L327.2 143.6L328.2 143.6L328.8 143.7" fill="none" stroke="#e23a3a" stroke-width="0.8"/>
<path d="M192 134.8L193 134.8L194 134.7L195 134.7L196 134.7L197 134.7L198 134.7L199 134.7L200 134.6L201 134.6L202 134.6L203 134.5L204 134.5L205 134.4L206 134.3L207 134.1L208 134L209 133.8L210 133.5L211 133.2L212 132.9L213 132.5L214 132L215 131.5L216 131L217 130.4L218 129.8L219 129.1L220 128.5L221 127.9L222 127.5L223 127.1L224 126.9L225 126.8L226 126.9L227 127.2L228 127.6L229 128.2L230 128.8L231 129.5L232 130.2L233 130.9L234 131.6L235 132.2L236 132.8L237 133.4L238 133.9L239 134.3L240 134.7L241 135L242 135.3L243 135.6L244 135.8L245 136L246 136.2L247 136.4L248 136.6L249 136.8L250 137L251 137.2L252 137.3L253 137.5L254 137.6L255 137.7L256 137.8L257 137.9L258 137.9L258 138.2L257 138.1L256 138.1L255 138L254 137.9L253 137.8L252 137.7L251 137.6L250 137.4L249 137.3L248 137.1L247 137L246 136.9L245 136.8L244 136.7L243 136.6L242 136.6L241 136.5L240 136.4L239 136.3L238 136.3L237 136.2L236 136.1L235 136.1L234 136L233 135.9L232 135.9L231 135.8L230 135.8L229 135.7L228 135.7L227 135.7L226 135.6L225 135.6L224 135.6L223 135.5L222 135.5L221 135.5L220 135.5L219 135.4L218 135.4L217 135.4L216 135.4L215 135.3L214 135.3L213 135.3L212 135.3L211 135.3L210 135.2L209 135.2L208 135.2L207 135.2L206 135.2L205 135.1L204 135.1L203 135.1L202 135.1L201 135.1L200 135.1L199 135.1L198 135L197 135L196 135L195 135L194 135L193 135L192 135Z" fill="url(#gBlue)" fill-opacity="0.8"/>
<path d="M192 134.8L193 134.8L194 134.7L195 134.7L196 134.7L197 134.7L198 134.7L199 134.7L200 134.6L201 134.6L202 134.6L203 134.5L204 134.5L205 134.4L206 134.3L207 134.1L208 134L209 133.8L210 133.5L211 133.2L212 132.9L213 132.5L214 132L215 131.5L216 131L217 130.4L218 129.8L219 129.1L220 128.5L221 127.9L222 127.5L223 127.1L224 126.9L225 126.8L226 126.9L227 127.2L228 127.6L229 128.2L230 128.8L231 129.5L232 130.2L233 130.9L234 131.6L235 132.2L236 132.8L237 133.4L238 133.9L239 134.3L240 134.7L241 135L242 135.3L243 135.6L244 135.8L245 136L246 136.2L247 136.4L248 136.6L249 136.8L250 137L251 137.2L252 137.3L253 137.5L254 137.6L255 137.7L256 137.8L257 137.9L258 137.9" fill="none" stroke="#4a7ee0" stroke-width="0.8"/>
<path d="M235 135.8L236 135.9L237 135.9L238 136L239 136L240 136.1L241 136.1L242 136.2L243 136.2L244 136.3L245 136.4L246 136.4L247 136.5L248 136.6L249 136.7L250 136.7L251 136.8L252 136.8L253 136.8L254 136.8L255 136.7L256 136.5L257 136.3L258 136L259 135.7L260 135.3L261 134.8L262 134.2L263 133.5L264 132.8L265 132L266 131.2L267 130.3L268 129.5L269 128.6L270 127.9L271 127.3L272 126.9L273 126.7L274 126.7L275 127L276 127.5L277 128.2L278 129L279 129.9L280 130.8L281 131.8L282 132.8L283 133.7L284 134.7L285 135.5L286 136.4L287 137.1L288 137.8L289 138.4L290 139L291 139.5L292 140L293 140.4L294 140.7L295 141.1L296 141.3L297 141.6L298 141.8L299 142L300 142.1L301 142.2L302 142.3L303 142.4L304 142.5L305 142.6L306 142.6L307 142.7L308 142.8L309 142.9L310 142.9L311 143L312 143.1L312 143.3L311 143.2L310 143.2L309 143.1L308 143.1L307 143L306 143L305 142.9L304 142.9L303 142.8L302 142.7L301 142.7L300 142.6L299 142.5L298 142.4L297 142.3L296 142.1L295 141.9L294 141.7L293 141.5L292 141.3L291 141L290 140.8L289 140.6L288 140.3L287 140.1L286 139.9L285 139.7L284 139.5L283 139.3L282 139.2L281 139.1L280 139L279 138.9L278 138.9L277 138.8L276 138.8L275 138.7L274 138.7L273 138.7L272 138.6L271 138.6L270 138.6L269 138.5L268 138.5L267 138.5L266 138.5L265 138.4L264 138.4L263 138.4L262 138.3L261 138.3L260 138.3L259 138.2L258 138.2L257 138.1L256 138.1L255 138L254 137.9L253 137.8L252 137.7L251 137.6L250 137.4L249 137.3L248 137.1L247 137L246 136.9L245 136.8L244 136.7L243 136.6L242 136.6L241 136.5L240 136.4L239 136.3L238 136.3L237 136.2L236 136.1L235 136.1Z" fill="url(#gBlue)" fill-opacity="0.8"/>
<path d="M235 135.8L236 135.9L237 135.9L238 136L239 136L240 136.1L241 136.1L242 136.2L243 136.2L244 136.3L245 136.4L246 136.4L247 136.5L248 136.6L249 136.7L250 136.7L251 136.8L252 136.8L253 136.8L254 136.8L255 136.7L256 136.5L257 136.3L258 136L259 135.7L260 135.3L261 134.8L262 134.2L263 133.5L264 132.8L265 132L266 131.2L267 130.3L268 129.5L269 128.6L270 127.9L271 127.3L272 126.9L273 126.7L274 126.7L275 127L276 127.5L277 128.2L278 129L279 129.9L280 130.8L281 131.8L282 132.8L283 133.7L284 134.7L285 135.5L286 136.4L287 137.1L288 137.8L289 138.4L290 139L291 139.5L292 140L293 140.4L294 140.7L295 141.1L296 141.3L297 141.6L298 141.8L299 142L300 142.1L301 142.2L302 142.3L303 142.4L304 142.5L305 142.6L306 142.6L307 142.7L308 142.8L309 142.9L310 142.9L311 143L312 143.1" fill="none" stroke="#4a7ee0" stroke-width="0.8"/>
<path d="M189.5 135L191.5 135L193.5 135L195.5 135L197.5 135L199.5 135.1L201.5 135.1L203.5 135.1L205.5 135.1L207.5 135.2L209.5 135.2L211.5 135.3L213.5 135.3L215.5 135.4L217.5 135.4L219.5 135.5L221.5 135.5L223.5 135.6L225.5 135.6L227.5 135.7L229.5 135.8L231.5 135.9L233.5 136L235.5 136.1L237.5 136.2L239.5 136.4L241.5 136.5L243.5 136.7L245.5 136.8L247.5 137.1L249.5 137.4L251.5 137.6L253.5 137.9L255.5 138L257.5 138.1L259.5 138.2L261.5 138.3L263.5 138.4L265.5 138.4L267.5 138.5L269.5 138.5L271.5 138.6L273.5 138.7L275.5 138.8L277.5 138.9L279.5 139L281.5 139.1L283.5 139.4L285.5 139.8L287.5 140.2L289.5 140.7L291.5 141.2L293.5 141.6L295.5 142L297.5 142.3L299.5 142.6L301.5 142.7L303.5 142.8L305.5 142.9L307.5 143.1L309.5 143.2L311.5 143.3L313.5 143.4L315.5 143.5L317.5 143.6L319.5 143.6L321.5 143.7L323.5 143.8L325.5 143.8L327.5 143.9L329.5 143.9L331.5 144L333.5 144L335.5 144L337.5 144L338.2 144" fill="none" stroke="#b430c4" stroke-width="0.9" />
<path d="M189.5 134.9L190.2 134.9L190.9 134.9L191.6 134.8L192.3 134.8L193 134.8L193.7 134.7L194.4 134.7L195.1 134.6L195.8 134.6L196.5 134.5L197.2 134.4L197.9 134.3L198.6 134.2L199.3 134.2L200 134.1L200.7 134L201.4 133.9L202.1 133.8L202.8 133.7L203.5 133.5L204.2 133.4L204.9 133.3L205.6 133.2L206.3 133L207 132.8L207.7 132.6L208.4 132.4L209.1 132.1L209.8 131.8L210.5 131.6L211.2 131.3L211.9 131.1L212.6 130.8L213.3 130.5L214 130.2L214.7 130L215.4 129.7L216.1 129.4L216.8 129.1L217.5 128.8L218.2 128.5L218.9 128.2L219.6 127.9L220.3 127.7L221 127.4L221.7 127.1L222.4 126.8L223.1 126.5L223.8 126.2L224.5 125.9L225.2 125.7L225.9 125.4L226.6 125.1L227.3 124.9L228 124.6L228.7 124.3L229.4 124L230.1 123.7L230.8 123.3L231.5 122.8L232.2 122.1L232.9 121.2L233.6 120.1L234.3 118.8L235 117L235.7 115L236.4 113L237.1 111.1L237.8 109.3L238.5 107.4L239.2 105.6L239.9 103.3L240.6 101.1L241.3 100.3L242 101.2L242.7 102.9L243.4 105L244.1 107.3L244.8 110.2L245.5 113.1L246.2 116.2L246.9 119.1L247.6 121.4L248.3 123.4L249 125.2L249.7 126.7L250.4 128L251.1 129.2L251.8 130.3L252.5 131.3L253.2 132.1L253.9 132.8L254.6 133.5L255.3 134.1L256 134.5L256.7 134.6L257.4 134.6L258.1 134.5L258.8 134.4L259.5 134.2L260.2 133.7L260.9 133.1L261.6 132.5L262.3 132L263 131.5L263.7 131L264.4 130.5L265.1 130L265.8 129.5L266.5 129.1L267.2 128.7L267.9 128.4L268.6 128.1L269.3 127.9L270 127.8L270.7 127.6L271.4 127.5L272.1 127.4L272.8 127.2L273.5 127L274.2 126.8L274.9 126.5L275.6 126.2L276.3 125.9L277 125.5L277.7 125.1L278.4 124.6L279.1 124.1L279.8 123.5L280.5 122.8L281.2 121.8L281.9 120.3L282.6 118.5L283.3 116.6L284 114.5L284.7 112L285.4 109.1L286.1 106.1L286.8 103.3L287.5 100L288.2 96.5L288.9 93.6L289.6 92.1L290.3 92.4L291 93.8L291.7 96L292.4 98.5L293.1 101.2L293.8 104.8L294.5 108.6L295.2 112.1L295.9 115.3L296.6 118.4L297.3 121.4L298 124.1L298.7 126.5L299.4 128.6L300.1 130.6L300.8 132.5L301.5 134.1L302.2 135.5L302.9 136.9L303.6 138.2L304.3 139.4L305 140.4L305.7 141L306.4 141.3L307.1 141.6L307.8 141.8L308.5 142L309.2 142.2L309.9 142.4L310.6 142.5L311.3 142.6L312 142.8L312.7 142.8L313.4 142.9L314.1 143L314.8 143L315.5 143.1L316.2 143.1L316.9 143.1L317.6 143.2L318.3 143.2L319 143.2L319.7 143.3L320.4 143.3L321.1 143.3L321.8 143.4L322.5 143.4L323.2 143.4L323.9 143.4L324.6 143.5L325.3 143.5L326 143.5L326.7 143.5L327.4 143.6L328.1 143.6L328.8 143.6L329.5 143.6L330.2 143.6L330.9 143.6L331.6 143.6L332.3 143.7L333 143.7L333.7 143.7L334.4 143.7L335.1 143.7L335.8 143.7L336.5 143.7L337.2 143.7L337.9 143.7L338.2 143.7" fill="none" stroke="#9a1c2c" stroke-width="0.9" />
<path d="M189.5 134.2L190.6 135.7L191.7 134.4L192.8 135L193.9 133.4L195 135.1L196.1 133.6L197.2 135.5L198.3 133.9L199.4 134.9L200.5 133.4L201.6 134.7L202.7 132.5L203.8 134.1L204.9 132.2L206 134.3L207.1 131.5L208.2 133.5L209.3 130.8L210.4 132.5L211.5 130.3L212.6 131.3L213.7 130.2L214.8 129.9L215.9 128.2L217 130.2L218.1 127.9L219.2 128.2L220.3 127.6L221.4 128.5L222.5 125.6L223.6 126.9L224.7 124.7L225.8 125.8L226.9 124.5L228 124.8L229.1 123.7L230.2 123.7L231.3 121.8L232.4 122.3L233.5 119.9L234.6 118.3L235.7 114.7L236.8 112.2L237.9 108.7L239 106.1L240.1 102.5L241.2 100.9L242.3 101.8L243.4 105.4L244.5 108.5L245.6 113.8L246.7 118.1L247.8 122.4L248.9 124.4L250 127.4L251.1 128.4L252.2 131.6L253.3 131.9L254.4 134L255.5 133L256.6 135.7L257.7 133.8L258.8 135.1L259.9 132.9L261 133.5L262.1 131.3L263.2 132.4L264.3 129.4L265.4 130.5L266.5 128L267.6 129.4L268.7 126.8L269.8 128.2L270.9 126.7L272 128.2L273.1 125.9L274.2 127.4L275.3 125.3L276.4 126.2L277.5 124.5L278.6 125.7L279.7 122.9L280.8 123.7L281.9 119.2L283 118L284.1 113.8L285.2 110.1L286.3 105.1L287.4 101L288.5 94.6L289.6 92.3L290.7 93L291.8 96.6L292.9 99.9L294 105.9L295.1 111.1L296.2 117L297.3 121.4L298.4 126.1L299.5 128.6L300.6 132L301.7 134.1L302.8 137.7L303.9 138.6L305 141.2L306.1 140.2L307.2 142.3L308.3 141.3L309.4 143.1L310.5 141.5L311.6 143.9L312.7 142.7L313.8 143.2L314.9 142.1L316 144.2L317.1 142.2L318.2 144.4L319.3 142.6L320.4 144.2L321.5 143L322.6 143.7L323.7 142.5L324.8 143.8L325.9 143.1L327 144.5L328.1 142.4L329.2 144.8L330.3 142.9L331.4 144L332.5 142.9L333.6 145L334.7 143.1L335.8 144.5L336.9 143.6L338 145L338.2 143.4" fill="none" stroke="#181828" stroke-width="0.75" stroke-linejoin="round"/>
<path d="M206.3 207.5L207.3 207.5L208.3 207.4L209.3 207.4L210.3 207.4L211.3 207.4L212.3 207.4L213.3 207.4L214.3 207.4L215.3 207.3L216.3 207.3L217.3 207.3L218.3 207.2L219.3 207.2L220.3 207.1L221.3 207L222.3 206.8L223.3 206.6L224.3 206.2L225.3 205.7L226.3 205L227.3 204.1L228.3 202.9L229.3 201.3L230.3 199.3L231.3 196.9L232.3 194.2L233.3 191.3L234.3 188.3L235.3 185.4L236.3 183L237.3 181.3L238.3 180.5L239.3 180.8L240.3 182.1L241.3 184.2L242.3 186.9L243.3 189.9L244.3 192.9L245.3 195.8L246.3 198.4L247.3 200.6L248.3 202.4L249.3 203.9L250.3 205L251.3 205.8L252.3 206.4L253.3 206.9L254.3 207.2L255.3 207.4L256.4 207.6L257.4 207.7L258.4 207.8L259.4 207.9L260.4 208L261.4 208.1L262.4 208.2L263.4 208.2L264.4 208.3L265.4 208.4L266.4 208.4L267.4 208.5L268.4 208.6L269.4 208.6L270.4 208.7L270.9 208.7L270.9 209L270.4 209L269.4 208.9L268.4 208.9L267.4 208.8L266.4 208.8L265.4 208.7L264.4 208.7L263.4 208.7L262.4 208.6L261.4 208.6L260.4 208.6L259.4 208.5L258.4 208.5L257.4 208.5L256.4 208.4L255.3 208.4L254.3 208.4L253.3 208.4L252.3 208.3L251.3 208.3L250.3 208.3L249.3 208.3L248.3 208.2L247.3 208.2L246.3 208.2L245.3 208.2L244.3 208.2L243.3 208.2L242.3 208.1L241.3 208.1L240.3 208.1L239.3 208.1L238.3 208.1L237.3 208.1L236.3 208L235.3 208L234.3 208L233.3 208L232.3 208L231.3 208L230.3 208L229.3 208L228.3 207.9L227.3 207.9L226.3 207.9L225.3 207.9L224.3 207.9L223.3 207.9L222.3 207.9L221.3 207.9L220.3 207.8L219.3 207.8L218.3 207.8L217.3 207.8L216.3 207.8L215.3 207.8L214.3 207.8L213.3 207.8L212.3 207.8L211.3 207.8L210.3 207.7L209.3 207.7L208.3 207.7L207.3 207.7L206.3 207.7Z" fill="url(#gPink)"/>
<path d="M206.3 207.5L207.3 207.5L208.3 207.4L209.3 207.4L210.3 207.4L211.3 207.4L212.3 207.4L213.3 207.4L214.3 207.4L215.3 207.3L216.3 207.3L217.3 207.3L218.3 207.2L219.3 207.2L220.3 207.1L221.3 207L222.3 206.8L223.3 206.6L224.3 206.2L225.3 205.7L226.3 205L227.3 204.1L228.3 202.9L229.3 201.3L230.3 199.3L231.3 196.9L232.3 194.2L233.3 191.3L234.3 188.3L235.3 185.4L236.3 183L237.3 181.3L238.3 180.5L239.3 180.8L240.3 182.1L241.3 184.2L242.3 186.9L243.3 189.9L244.3 192.9L245.3 195.8L246.3 198.4L247.3 200.6L248.3 202.4L249.3 203.9L250.3 205L251.3 205.8L252.3 206.4L253.3 206.9L254.3 207.2L255.3 207.4L256.4 207.6L257.4 207.7L258.4 207.8L259.4 207.9L260.4 208L261.4 208.1L262.4 208.2L263.4 208.2L264.4 208.3L265.4 208.4L266.4 208.4L267.4 208.5L268.4 208.6L269.4 208.6L270.4 208.7L270.9 208.7" fill="none" stroke="#e23a3a" stroke-width="0.8"/>
<path d="M251.4 208.1L252.4 208.1L253.4 208.1L254.4 208.1L255.4 208.1L256.4 208.1L257.4 208.1L258.4 208.1L259.4 208.1L260.4 208.1L261.4 208.1L262.4 208.1L263.4 208.1L264.4 208.1L265.4 208.1L266.4 208.1L267.4 208.1L268.4 208L269.4 208L270.4 207.9L271.4 207.8L272.4 207.7L273.4 207.4L274.4 207.1L275.4 206.5L276.4 205.6L277.4 204.3L278.4 202.6L279.4 200.2L280.4 197.1L281.4 193.4L282.4 189.1L283.4 184.5L284.4 179.8L285.4 175.5L286.4 172.1L287.4 170.1L288.4 169.9L289.4 171.5L290.4 174.9L291.4 179.3L292.4 184.4L293.4 189.5L294.4 194.4L295.4 198.8L296.4 202.5L297.4 205.4L298.4 207.7L299.4 209.4L300.4 210.6L301.4 211.5L302.4 212L303.4 212.5L304.4 212.8L305.4 213L306.4 213.2L307.4 213.3L308.4 213.5L309.4 213.6L310.4 213.7L311.4 213.8L312.4 213.9L313.4 214L314.4 214L315.4 214.1L316.4 214.2L317.4 214.2L318.4 214.3L319.4 214.4L320.4 214.4L321.4 214.5L322.4 214.5L323.4 214.5L324.4 214.6L324.9 214.6L324.9 214.8L324.4 214.8L323.4 214.8L322.4 214.8L321.4 214.8L320.4 214.7L319.4 214.7L318.4 214.7L317.4 214.6L316.4 214.6L315.4 214.6L314.4 214.5L313.4 214.5L312.4 214.4L311.4 214.4L310.4 214.3L309.4 214.3L308.4 214.3L307.4 214.2L306.4 214.2L305.4 214.1L304.4 214L303.4 214L302.4 213.9L301.4 213.9L300.4 213.8L299.4 213.8L298.4 213.6L297.4 213.5L296.4 213.3L295.4 213.1L294.4 212.9L293.4 212.7L292.4 212.4L291.4 212.1L290.4 211.8L289.4 211.6L288.4 211.3L287.4 211L286.4 210.8L285.4 210.5L284.4 210.3L283.4 210.1L282.4 209.9L281.4 209.7L280.4 209.6L279.4 209.5L278.4 209.5L277.4 209.4L276.4 209.3L275.4 209.3L274.4 209.2L273.4 209.1L272.4 209.1L271.4 209L270.4 209L269.4 208.9L268.4 208.9L267.4 208.8L266.4 208.8L265.4 208.7L264.4 208.7L263.4 208.7L262.4 208.6L261.4 208.6L260.4 208.6L259.4 208.5L258.4 208.5L257.4 208.5L256.4 208.4L255.4 208.4L254.4 208.4L253.4 208.4L252.4 208.3L251.4 208.3Z" fill="url(#gPink)"/>
<path d="M251.4 208.1L252.4 208.1L253.4 208.1L254.4 208.1L255.4 208.1L256.4 208.1L257.4 208.1L258.4 208.1L259.4 208.1L260.4 208.1L261.4 208.1L262.4 208.1L263.4 208.1L264.4 208.1L265.4 208.1L266.4 208.1L267.4 208.1L268.4 208L269.4 208L270.4 207.9L271.4 207.8L272.4 207.7L273.4 207.4L274.4 207.1L275.4 206.5L276.4 205.6L277.4 204.3L278.4 202.6L279.4 200.2L280.4 197.1L281.4 193.4L282.4 189.1L283.4 184.5L284.4 179.8L285.4 175.5L286.4 172.1L287.4 170.1L288.4 169.9L289.4 171.5L290.4 174.9L291.4 179.3L292.4 184.4L293.4 189.5L294.4 194.4L295.4 198.8L296.4 202.5L297.4 205.4L298.4 207.7L299.4 209.4L300.4 210.6L301.4 211.5L302.4 212L303.4 212.5L304.4 212.8L305.4 213L306.4 213.2L307.4 213.3L308.4 213.5L309.4 213.6L310.4 213.7L311.4 213.8L312.4 213.9L313.4 214L314.4 214L315.4 214.1L316.4 214.2L317.4 214.2L318.4 214.3L319.4 214.4L320.4 214.4L321.4 214.5L322.4 214.5L323.4 214.5L324.4 214.6L324.9 214.6" fill="none" stroke="#e23a3a" stroke-width="0.8"/>
<path d="M205.2 207.5L206.2 207.4L207.2 207.4L208.2 207.4L209.2 207.3L210.2 207.3L211.2 207.2L212.2 207.1L213.2 207L214.2 206.9L215.2 206.7L216.2 206.5L217.2 206.3L218.2 206.1L219.2 205.8L220.2 205.5L221.2 205.2L222.2 204.9L223.2 204.6L224.2 204.4L225.2 204.2L226.2 204.1L227.2 204.1L228.2 204.2L229.2 204.4L230.2 204.7L231.2 205L232.2 205.3L233.2 205.7L234.2 206L235.2 206.3L236.2 206.5L237.2 206.8L238.2 207L239.2 207.2L240.2 207.3L241.2 207.5L242.2 207.6L243.2 207.7L244.2 207.8L245.2 207.8L246.2 207.9L247.2 208L248.2 208L248.2 208.2L247.2 208.2L246.2 208.2L245.2 208.2L244.2 208.2L243.2 208.2L242.2 208.1L241.2 208.1L240.2 208.1L239.2 208.1L238.2 208.1L237.2 208.1L236.2 208L235.2 208L234.2 208L233.2 208L232.2 208L231.2 208L230.2 208L229.2 207.9L228.2 207.9L227.2 207.9L226.2 207.9L225.2 207.9L224.2 207.9L223.2 207.9L222.2 207.9L221.2 207.9L220.2 207.8L219.2 207.8L218.2 207.8L217.2 207.8L216.2 207.8L215.2 207.8L214.2 207.8L213.2 207.8L212.2 207.8L211.2 207.8L210.2 207.7L209.2 207.7L208.2 207.7L207.2 207.7L206.2 207.7L205.2 207.7Z" fill="url(#gBlue)" fill-opacity="0.7"/>
<path d="M205.2 207.5L206.2 207.4L207.2 207.4L208.2 207.4L209.2 207.3L210.2 207.3L211.2 207.2L212.2 207.1L213.2 207L214.2 206.9L215.2 206.7L216.2 206.5L217.2 206.3L218.2 206.1L219.2 205.8L220.2 205.5L221.2 205.2L222.2 204.9L223.2 204.6L224.2 204.4L225.2 204.2L226.2 204.1L227.2 204.1L228.2 204.2L229.2 204.4L230.2 204.7L231.2 205L232.2 205.3L233.2 205.7L234.2 206L235.2 206.3L236.2 206.5L237.2 206.8L238.2 207L239.2 207.2L240.2 207.3L241.2 207.5L242.2 207.6L243.2 207.7L244.2 207.8L245.2 207.8L246.2 207.9L247.2 208L248.2 208" fill="none" stroke="#4a7ee0" stroke-width="0.8"/>
<path d="M248.7 208L249.7 208L250.7 208L251.7 208L252.7 208L253.7 208L254.7 207.9L255.7 207.9L256.7 207.8L257.7 207.7L258.7 207.6L259.7 207.5L260.7 207.3L261.7 207.1L262.7 206.9L263.7 206.6L264.7 206.3L265.7 206L266.7 205.6L267.7 205.3L268.7 205L269.7 204.8L270.7 204.6L271.7 204.6L272.7 204.6L273.7 204.8L274.7 205.1L275.7 205.4L276.7 205.8L277.7 206.3L278.7 206.7L279.7 207.2L280.7 207.6L281.7 208L282.7 208.4L283.7 208.9L284.7 209.3L285.7 209.7L286.7 210.1L287.7 210.5L288.7 210.8L289.7 211.2L290.7 211.5L291.7 211.9L292.7 212.2L293.7 212.5L294.7 212.7L295.7 213L295.7 213.2L294.7 213L293.7 212.7L292.7 212.5L291.7 212.2L290.7 211.9L289.7 211.7L288.7 211.4L287.7 211.1L286.7 210.8L285.7 210.6L284.7 210.4L283.7 210.1L282.7 210L281.7 209.8L280.7 209.7L279.7 209.6L278.7 209.5L277.7 209.4L276.7 209.4L275.7 209.3L274.7 209.2L273.7 209.2L272.7 209.1L271.7 209L270.7 209L269.7 208.9L268.7 208.9L267.7 208.8L266.7 208.8L265.7 208.7L264.7 208.7L263.7 208.7L262.7 208.6L261.7 208.6L260.7 208.6L259.7 208.5L258.7 208.5L257.7 208.5L256.7 208.4L255.7 208.4L254.7 208.4L253.7 208.4L252.7 208.3L251.7 208.3L250.7 208.3L249.7 208.3L248.7 208.3Z" fill="url(#gBlue)" fill-opacity="0.7"/>
<path d="M248.7 208L249.7 208L250.7 208L251.7 208L252.7 208L253.7 208L254.7 207.9L255.7 207.9L256.7 207.8L257.7 207.7L258.7 207.6L259.7 207.5L260.7 207.3L261.7 207.1L262.7 206.9L263.7 206.6L264.7 206.3L265.7 206L266.7 205.6L267.7 205.3L268.7 205L269.7 204.8L270.7 204.6L271.7 204.6L272.7 204.6L273.7 204.8L274.7 205.1L275.7 205.4L276.7 205.8L277.7 206.3L278.7 206.7L279.7 207.2L280.7 207.6L281.7 208L282.7 208.4L283.7 208.9L284.7 209.3L285.7 209.7L286.7 210.1L287.7 210.5L288.7 210.8L289.7 211.2L290.7 211.5L291.7 211.9L292.7 212.2L293.7 212.5L294.7 212.7L295.7 213" fill="none" stroke="#4a7ee0" stroke-width="0.8"/>
<path d="M189.5 207.6L191.5 207.6L193.5 207.6L195.5 207.6L197.5 207.6L199.5 207.7L201.5 207.7L203.5 207.7L205.5 207.7L207.5 207.7L209.5 207.7L211.5 207.8L213.5 207.8L215.5 207.8L217.5 207.8L219.5 207.8L221.5 207.9L223.5 207.9L225.5 207.9L227.5 207.9L229.5 208L231.5 208L233.5 208L235.5 208L237.5 208.1L239.5 208.1L241.5 208.1L243.5 208.2L245.5 208.2L247.5 208.2L249.5 208.3L251.5 208.3L253.5 208.4L255.5 208.4L257.5 208.5L259.5 208.5L261.5 208.6L263.5 208.7L265.5 208.7L267.5 208.8L269.5 208.9L271.5 209L273.5 209.1L275.5 209.3L277.5 209.4L279.5 209.6L281.5 209.8L283.5 210.1L285.5 210.5L287.5 211.1L289.5 211.6L291.5 212.2L293.5 212.7L295.5 213.2L297.5 213.5L299.5 213.8L301.5 213.9L303.5 214L305.5 214.1L307.5 214.2L309.5 214.3L311.5 214.4L313.5 214.5L315.5 214.6L317.5 214.6L319.5 214.7L321.5 214.8L323.5 214.8L325.5 214.9L327.5 214.9L329.5 214.9L331.5 215L333.5 215L335.5 215L337.5 215L338.2 215" fill="none" stroke="#b430c4" stroke-width="0.9" />
<path d="M189.5 206.5L190.2 206.5L190.9 206.4L191.6 206.3L192.3 206.3L193 206.2L193.7 206.1L194.4 206L195.1 206L195.8 205.9L196.5 205.8L197.2 205.8L197.9 205.7L198.6 205.6L199.3 205.6L200 205.5L200.7 205.4L201.4 205.3L202.1 205.3L202.8 205.2L203.5 205.1L204.2 205.1L204.9 205L205.6 204.9L206.3 204.9L207 204.8L207.7 204.7L208.4 204.7L209.1 204.6L209.8 204.6L210.5 204.5L211.2 204.4L211.9 204.4L212.6 204.3L213.3 204.3L214 204.2L214.7 204.1L215.4 204.1L216.1 204L216.8 203.8L217.5 203.6L218.2 203.4L218.9 203.2L219.6 202.9L220.3 202.7L221 202.4L221.7 202.1L222.4 201.8L223.1 201.4L223.8 201.1L224.5 200.7L225.2 200.3L225.9 199.9L226.6 199.4L227.3 198.9L228 198.3L228.7 197.7L229.4 196.9L230.1 196.1L230.8 195.1L231.5 194.1L232.2 193L232.9 191.8L233.6 190.4L234.3 188.9L235 187.4L235.7 185.7L236.4 183.7L237.1 181.6L237.8 179.9L238.5 179.1L239.2 179.6L239.9 181.1L240.6 183.1L241.3 185.3L242 187.2L242.7 189L243.4 190.9L244.1 192.7L244.8 194.5L245.5 196.3L246.2 198.2L246.9 200L247.6 201.7L248.3 202.9L249 203.9L249.7 204.8L250.4 205.6L251.1 206.3L251.8 206.8L252.5 207L253.2 207L253.9 207L254.6 207L255.3 207L256 207L256.7 207L257.4 207L258.1 206.9L258.8 206.7L259.5 206.4L260.2 206.2L260.9 205.9L261.6 205.7L262.3 205.5L263 205.4L263.7 205.3L264.4 205.2L265.1 205.2L265.8 205.1L266.5 205L267.2 204.9L267.9 204.8L268.6 204.6L269.3 204.5L270 204.3L270.7 204.1L271.4 203.9L272.1 203.7L272.8 203.5L273.5 203.2L274.2 202.9L274.9 202.5L275.6 202.1L276.3 201.5L277 200.7L277.7 199.8L278.4 198.8L279.1 197.6L279.8 196.3L280.5 194.5L281.2 192.3L281.9 189.9L282.6 187.4L283.3 184.8L284 182L284.7 179L285.4 176.2L286.1 173.2L286.8 170.1L287.5 167.7L288.2 166.9L288.9 168.4L289.6 171.3L290.3 174.5L291 177.3L291.7 180L292.4 182.8L293.1 185.5L293.8 188.3L294.5 191.2L295.2 194.1L295.9 196.9L296.6 199.4L297.3 201.5L298 203.7L298.7 205.6L299.4 207.4L300.1 208.8L300.8 209.8L301.5 210.7L302.2 211.4L302.9 211.8L303.6 211.9L304.3 212L305 212.1L305.7 212.2L306.4 212.3L307.1 212.3L307.8 212.4L308.5 212.4L309.2 212.5L309.9 212.5L310.6 212.5L311.3 212.6L312 212.6L312.7 212.6L313.4 212.7L314.1 212.7L314.8 212.7L315.5 212.7L316.2 212.7L316.9 212.8L317.6 212.8L318.3 212.8L319 212.8L319.7 212.8L320.4 212.9L321.1 212.9L321.8 212.9L322.5 212.9L323.2 212.9L323.9 212.9L324.6 212.9L325.3 213L326 213L326.7 213L327.4 213L328.1 213L328.8 213L329.5 213L330.2 213L330.9 213.1L331.6 213.1L332.3 213.1L333 213.1L333.7 213.1L334.4 213.1L335.1 213.1L335.8 213.1L336.5 213.1L337.2 213.1L337.9 213.1L338.2 213.1" fill="none" stroke="#9a1c2c" stroke-width="0.9" />
<path d="M189.5 204.8L190.6 208.1L191.7 205.6L192.8 208.2L193.9 204.1L195 206.5L196.1 203.8L197.2 206.3L198.3 205L199.4 205.9L200.5 204.3L201.6 205.8L202.7 203.5L203.8 206.2L204.9 204.6L206 206.4L207.1 202.4L208.2 205.4L209.3 202.6L210.4 206.6L211.5 204L212.6 206.3L213.7 203.8L214.8 205.9L215.9 203.9L217 205.7L218.1 201.7L219.2 205.1L220.3 201.4L221.4 204L222.5 200.7L223.6 202.2L224.7 199.1L225.8 201L226.9 197.6L228 198.6L229.1 196.8L230.2 197.8L231.3 194.4L232.4 194.4L233.5 189.5L234.6 190L235.7 183.6L236.8 182.9L237.9 179.3L239 179.4L240.1 181L241.2 185.4L242.3 187.4L243.4 191.2L244.5 193.5L245.6 196.9L246.7 198.9L247.8 202.4L248.9 203.2L250 205.3L251.1 205.7L252.2 207.2L253.3 206.3L254.4 207.5L255.5 207L256.6 207.3L257.7 206.7L258.8 207.3L259.9 205.6L261 206L262.1 205.4L263.2 206L264.3 205L265.4 205.2L266.5 204.6L267.6 205.4L268.7 204.5L269.8 204.9L270.9 203.5L272 204.4L273.1 202.9L274.2 203.4L275.3 201.7L276.4 202.1L277.5 199.8L278.6 199L279.7 195.9L280.8 194L281.9 189.6L283 186.4L284.1 181.1L285.2 177.5L286.3 171.8L287.4 168.2L288.5 166.7L289.6 171.7L290.7 175.6L291.8 180.6L292.9 184.1L294 189.6L295.1 193.4L296.2 198.4L297.3 200.9L298.4 205.1L299.5 207.1L300.6 209.6L301.7 210.2L302.8 213.9L303.9 210L305 212.7L306.1 210.6L307.2 213.6L308.3 210.4L309.4 213.5L310.5 211.2L311.6 214.4L312.7 210.5L313.8 213.4L314.9 211.6L316 214.8L317.1 211.7L318.2 213.8L319.3 212.1L320.4 213.5L321.5 210.8L322.6 214L323.7 212.7L324.8 214.5L325.9 211.4L327 214.5L328.1 212.7L329.2 213.6L330.3 212.2L331.4 213.8L332.5 211.4L333.6 213.7L334.7 211.4L335.8 213.9L336.9 211L338 214L338.2 211.1" fill="none" stroke="#181828" stroke-width="0.75" stroke-linejoin="round"/>
<path d="M238.9 17V195.5M288.6 7V185.5" stroke="#1fae4b" stroke-width="1.9" stroke-dasharray="3.8 1.4"/>
<path d="M452 59.6L453 59.5L454 59.3L455 59.1L456 59L457 58.8L458 58.6L459 58.5L460 58.5L461 58.5L462 58.6L463 58.8L464 59L465 59.1L466 59.3L467 59.5L468 59.6L468 59.8L467 59.8L466 59.8L465 59.8L464 59.8L463 59.8L462 59.8L461 59.8L460 59.8L459 59.8L458 59.8L457 59.8L456 59.8L455 59.8L454 59.8L453 59.8L452 59.8Z" fill="#cde4f8"/>
<path d="M452 59.6L453 59.5L454 59.3L455 59.1L456 59L457 58.8L458 58.6L459 58.5L460 58.5L461 58.5L462 58.6L463 58.8L464 59L465 59.1L466 59.3L467 59.5L468 59.6" fill="none" stroke="#4a90e0" stroke-width="0.8"/>
<path d="M384.6 59.6L385.6 59.5L386.6 59.5L387.6 59.5L388.6 59.5L389.6 59.5L390.6 59.5L391.6 59.5L392.6 59.4L393.6 59.4L394.6 59.4L395.6 59.4L396.6 59.4L397.6 59.3L398.6 59.3L399.6 59.3L400.6 59.3L401.6 59.2L402.6 59.2L403.6 59.1L404.6 59.1L405.6 59L406.6 59L407.6 58.9L408.6 58.9L409.6 58.8L410.6 58.7L411.6 58.6L412.6 58.4L413.6 58.2L414.6 58L415.6 57.7L416.6 57.3L417.6 56.8L418.6 56L419.6 55.1L420.6 53.8L421.6 52.2L422.6 50.2L423.6 47.9L424.6 45.1L425.6 42L426.6 38.6L427.6 35L428.6 31.6L429.6 28.5L430.6 26L431.6 24.5L432.6 24.1L433.6 25L434.6 26.9L435.6 29.7L436.6 32.9L437.6 36.4L438.6 39.9L439.6 43.2L440.6 46.2L441.6 48.9L442.6 51.1L443.6 52.9L444.6 54.3L445.6 55.5L446.6 56.3L447.6 57L448.6 57.5L449.6 57.8L450.6 58.1L451.6 58.3L452.6 58.5L453.6 58.6L454.6 58.7L455.6 58.8L456.6 58.9L457.6 59L458.6 59L459.6 59.1L460.6 59.1L461.6 59.2L462.6 59.2L463.6 59.2L464.6 59.3L465.6 59.3L466.6 59.3L467.6 59.4L468.6 59.4L469.6 59.4L470.6 59.4L471.6 59.4L472.6 59.5L473.6 59.5L474.6 59.5L475.6 59.5L476.6 59.5L477.6 59.5L478.6 59.5L479.6 59.5L480.2 59.6L480.2 59.8L479.6 59.8L478.6 59.8L477.6 59.8L476.6 59.8L475.6 59.8L474.6 59.8L473.6 59.8L472.6 59.8L471.6 59.8L470.6 59.8L469.6 59.8L468.6 59.8L467.6 59.8L466.6 59.8L465.6 59.8L464.6 59.8L463.6 59.8L462.6 59.8L461.6 59.8L460.6 59.8L459.6 59.8L458.6 59.8L457.6 59.8L456.6 59.8L455.6 59.8L454.6 59.8L453.6 59.8L452.6 59.8L451.6 59.8L450.6 59.8L449.6 59.8L448.6 59.8L447.6 59.8L446.6 59.8L445.6 59.8L444.6 59.8L443.6 59.8L442.6 59.8L441.6 59.8L440.6 59.8L439.6 59.8L438.6 59.8L437.6 59.8L436.6 59.8L435.6 59.8L434.6 59.8L433.6 59.8L432.6 59.8L431.6 59.8L430.6 59.8L429.6 59.8L428.6 59.8L427.6 59.8L426.6 59.8L425.6 59.8L424.6 59.8L423.6 59.8L422.6 59.8L421.6 59.8L420.6 59.8L419.6 59.8L418.6 59.8L417.6 59.8L416.6 59.8L415.6 59.8L414.6 59.8L413.6 59.8L412.6 59.8L411.6 59.8L410.6 59.8L409.6 59.8L408.6 59.8L407.6 59.8L406.6 59.8L405.6 59.8L404.6 59.8L403.6 59.8L402.6 59.8L401.6 59.8L400.6 59.8L399.6 59.8L398.6 59.8L397.6 59.8L396.6 59.8L395.6 59.8L394.6 59.8L393.6 59.8L392.6 59.8L391.6 59.8L390.6 59.8L389.6 59.8L388.6 59.8L387.6 59.8L386.6 59.8L385.6 59.8L384.6 59.8Z" fill="url(#gO3)"/>
<path d="M384.6 59.6L385.6 59.5L386.6 59.5L387.6 59.5L388.6 59.5L389.6 59.5L390.6 59.5L391.6 59.5L392.6 59.4L393.6 59.4L394.6 59.4L395.6 59.4L396.6 59.4L397.6 59.3L398.6 59.3L399.6 59.3L400.6 59.3L401.6 59.2L402.6 59.2L403.6 59.1L404.6 59.1L405.6 59L406.6 59L407.6 58.9L408.6 58.9L409.6 58.8L410.6 58.7L411.6 58.6L412.6 58.4L413.6 58.2L414.6 58L415.6 57.7L416.6 57.3L417.6 56.8L418.6 56L419.6 55.1L420.6 53.8L421.6 52.2L422.6 50.2L423.6 47.9L424.6 45.1L425.6 42L426.6 38.6L427.6 35L428.6 31.6L429.6 28.5L430.6 26L431.6 24.5L432.6 24.1L433.6 25L434.6 26.9L435.6 29.7L436.6 32.9L437.6 36.4L438.6 39.9L439.6 43.2L440.6 46.2L441.6 48.9L442.6 51.1L443.6 52.9L444.6 54.3L445.6 55.5L446.6 56.3L447.6 57L448.6 57.5L449.6 57.8L450.6 58.1L451.6 58.3L452.6 58.5L453.6 58.6L454.6 58.7L455.6 58.8L456.6 58.9L457.6 59L458.6 59L459.6 59.1L460.6 59.1L461.6 59.2L462.6 59.2L463.6 59.2L464.6 59.3L465.6 59.3L466.6 59.3L467.6 59.4L468.6 59.4L469.6 59.4L470.6 59.4L471.6 59.4L472.6 59.5L473.6 59.5L474.6 59.5L475.6 59.5L476.6 59.5L477.6 59.5L478.6 59.5L479.6 59.5L480.2 59.6" fill="none" stroke="#d85a7a" stroke-width="0.8"/>
<path d="M419.6 59.6L420.6 59.5L421.6 59.5L422.6 59.4L423.6 59.3L424.6 59.2L425.6 59L426.6 58.7L427.6 58.3L428.6 57.6L429.6 56.6L430.6 55.3L431.6 53.6L432.6 51.6L433.6 49.2L434.6 46.7L435.6 44.1L436.6 41.8L437.6 40L438.6 38.9L439.6 38.8L440.6 39.6L441.6 41.2L442.6 43.4L443.6 45.9L444.6 48.5L445.6 50.9L446.6 53.1L447.6 54.9L448.6 56.3L449.6 57.3L450.6 58.1L451.6 58.6L452.6 58.9L453.6 59.2L454.6 59.3L455.6 59.4L456.6 59.5L457.6 59.5L458.6 59.5L458.8 59.6L458.8 59.8L458.6 59.8L457.6 59.8L456.6 59.8L455.6 59.8L454.6 59.8L453.6 59.8L452.6 59.8L451.6 59.8L450.6 59.8L449.6 59.8L448.6 59.8L447.6 59.8L446.6 59.8L445.6 59.8L444.6 59.8L443.6 59.8L442.6 59.8L441.6 59.8L440.6 59.8L439.6 59.8L438.6 59.8L437.6 59.8L436.6 59.8L435.6 59.8L434.6 59.8L433.6 59.8L432.6 59.8L431.6 59.8L430.6 59.8L429.6 59.8L428.6 59.8L427.6 59.8L426.6 59.8L425.6 59.8L424.6 59.8L423.6 59.8L422.6 59.8L421.6 59.8L420.6 59.8L419.6 59.8Z" fill="url(#gO2)" fill-opacity="0.6"/>
<path d="M419.6 59.6L420.6 59.5L421.6 59.5L422.6 59.4L423.6 59.3L424.6 59.2L425.6 59L426.6 58.7L427.6 58.3L428.6 57.6L429.6 56.6L430.6 55.3L431.6 53.6L432.6 51.6L433.6 49.2L434.6 46.7L435.6 44.1L436.6 41.8L437.6 40L438.6 38.9L439.6 38.8L440.6 39.6L441.6 41.2L442.6 43.4L443.6 45.9L444.6 48.5L445.6 50.9L446.6 53.1L447.6 54.9L448.6 56.3L449.6 57.3L450.6 58.1L451.6 58.6L452.6 58.9L453.6 59.2L454.6 59.3L455.6 59.4L456.6 59.5L457.6 59.5L458.6 59.5L458.8 59.6" fill="none" stroke="#d870c8" stroke-width="0.8"/>
<path d="M397 59.6L398 59.5L399 59.4L400 59.3L401 59.2L402 59.1L403 58.9L404 58.7L405 58.5L406 58.2L407 58L408 57.7L409 57.4L410 57.1L411 56.9L412 56.7L413 56.5L414 56.4L415 56.4L416 56.4L417 56.5L418 56.7L419 56.9L420 57.1L421 57.4L422 57.7L423 58L424 58.2L425 58.5L426 58.7L427 58.9L428 59.1L429 59.2L430 59.3L431 59.4L432 59.5L433 59.6L433 59.8L432 59.8L431 59.8L430 59.8L429 59.8L428 59.8L427 59.8L426 59.8L425 59.8L424 59.8L423 59.8L422 59.8L421 59.8L420 59.8L419 59.8L418 59.8L417 59.8L416 59.8L415 59.8L414 59.8L413 59.8L412 59.8L411 59.8L410 59.8L409 59.8L408 59.8L407 59.8L406 59.8L405 59.8L404 59.8L403 59.8L402 59.8L401 59.8L400 59.8L399 59.8L398 59.8L397 59.8Z" fill="#d8eec0" fill-opacity="0.8"/>
<path d="M397 59.6L398 59.5L399 59.4L400 59.3L401 59.2L402 59.1L403 58.9L404 58.7L405 58.5L406 58.2L407 58L408 57.7L409 57.4L410 57.1L411 56.9L412 56.7L413 56.5L414 56.4L415 56.4L416 56.4L417 56.5L418 56.7L419 56.9L420 57.1L421 57.4L422 57.7L423 58L424 58.2L425 58.5L426 58.7L427 58.9L428 59.1L429 59.2L430 59.3L431 59.4L432 59.5L433 59.6" fill="none" stroke="#70b040" stroke-width="0.8"/>
<path d="M364.1 59.8L368.1 59.8L372.1 59.8L376.1 59.8L380.1 59.8L384.1 59.8L388.1 59.8L392.1 59.8L396.1 59.8L400.1 59.8L404.1 59.8L408.1 59.8L412.1 59.8L416.1 59.8L420.1 59.8L424.1 59.8L428.1 59.8L432.1 59.8L436.1 59.8L440.1 59.8L444.1 59.8L448.1 59.8L452.1 59.8L456.1 59.8L460.1 59.8L464.1 59.8L468.1 59.8L472.1 59.8L476.1 59.8L480.1 59.8L484.1 59.8L488.1 59.8L492.1 59.8L496.1 59.8L500.1 59.8L504.1 59.8L508.1 59.8L512 59.8" fill="none" stroke="#a8b43c" stroke-width="0.9" />
<path d="M364.1 59.8L364.9 59.8L365.7 59.8L366.5 59.8L367.3 59.8L368.1 59.8L368.9 59.8L369.7 59.8L370.5 59.8L371.3 59.8L372.1 59.8L372.9 59.8L373.7 59.8L374.5 59.8L375.3 59.8L376.1 59.8L376.9 59.8L377.7 59.8L378.5 59.8L379.3 59.8L380.1 59.8L380.9 59.8L381.7 59.8L382.5 59.8L383.3 59.8L384.1 59.8L384.9 59.7L385.7 59.7L386.5 59.7L387.3 59.7L388.1 59.7L388.9 59.7L389.7 59.7L390.5 59.7L391.3 59.7L392.1 59.7L392.9 59.7L393.7 59.7L394.5 59.7L395.3 59.7L396.1 59.6L396.9 59.6L397.7 59.6L398.5 59.6L399.3 59.6L400.1 59.6L400.9 59.6L401.7 59.5L402.5 59.4L403.3 59.2L404.1 59.1L404.9 58.9L405.7 58.8L406.5 58.5L407.3 58.3L408.1 58.1L408.9 57.8L409.7 57.5L410.5 57.1L411.3 56.8L412.1 56.4L412.9 56.1L413.7 55.7L414.5 55.3L415.3 54.8L416.1 54.2L416.9 53.6L417.7 53L418.5 52.2L419.3 51.2L420.1 49.8L420.9 48.2L421.7 46.3L422.5 44.3L423.3 41.8L424.1 38.6L424.9 35.4L425.7 32.2L426.5 29L427.3 25.9L428.1 23L428.9 20L429.7 17.5L430.5 15.5L431.3 13.8L432.1 12.3L432.9 11.1L433.7 10.6L434.5 10.9L435.3 11.8L436.1 13.2L436.9 14.8L437.7 16.4L438.5 18.5L439.3 21.1L440.1 23.9L440.9 26.5L441.7 29.1L442.5 31.8L443.3 34.5L444.1 37.5L444.9 40.5L445.7 43.2L446.5 45.3L447.3 47.3L448.1 49L448.9 50.5L449.7 51.8L450.5 52.8L451.3 53.8L452.1 54.6L452.9 55.4L453.7 56L454.5 56.6L455.3 57L456.1 57.3L456.9 57.5L457.7 57.7L458.5 57.9L459.3 58.1L460.1 58.3L460.9 58.4L461.7 58.5L462.5 58.6L463.3 58.7L464.1 58.8L464.9 58.9L465.7 59L466.5 59L467.3 59.1L468.1 59.1L468.9 59.2L469.7 59.2L470.5 59.3L471.3 59.3L472.1 59.4L472.9 59.4L473.7 59.4L474.5 59.5L475.3 59.5L476.1 59.5L476.9 59.5L477.7 59.6L478.5 59.6L479.3 59.6L480.1 59.6L480.9 59.6L481.7 59.6L482.5 59.6L483.3 59.6L484.1 59.6L484.9 59.7L485.7 59.7L486.5 59.7L487.3 59.7L488.1 59.7L488.9 59.7L489.7 59.7L490.5 59.7L491.3 59.7L492.1 59.7L492.9 59.7L493.7 59.7L494.5 59.7L495.3 59.7L496.1 59.7L496.9 59.8L497.7 59.8L498.5 59.8L499.3 59.8L500.1 59.8L500.9 59.8L501.7 59.8L502.5 59.8L503.3 59.8L504.1 59.8L504.9 59.8L505.7 59.8L506.5 59.8L507.3 59.8L508.1 59.8L508.9 59.8L509.7 59.8L510.5 59.8L511.3 59.8L512 59.8" fill="none" stroke="#3e3834" stroke-width="1.0" />
<path d="M446 141.1L447 141L448 140.9L449 140.7L450 140.4L451 140.1L452 139.8L453 139.4L454 139.1L455 138.9L456 138.9L457 138.9L458 139.2L459 139.5L460 139.8L461 140.1L462 140.5L463 140.7L464 140.9L465 141.1L466 141.2L466 141.4L465 141.4L464 141.4L463 141.4L462 141.4L461 141.4L460 141.4L459 141.4L458 141.4L457 141.4L456 141.4L455 141.4L454 141.4L453 141.4L452 141.4L451 141.4L450 141.3L449 141.3L448 141.3L447 141.3L446 141.3Z" fill="#cde4f8"/>
<path d="M446 141.1L447 141L448 140.9L449 140.7L450 140.4L451 140.1L452 139.8L453 139.4L454 139.1L455 138.9L456 138.9L457 138.9L458 139.2L459 139.5L460 139.8L461 140.1L462 140.5L463 140.7L464 140.9L465 141.1L466 141.2" fill="none" stroke="#4a90e0" stroke-width="0.8"/>
<path d="M396.4 140.9L397.4 140.9L398.4 140.9L399.4 140.9L400.4 140.8L401.4 140.8L402.4 140.8L403.4 140.8L404.4 140.8L405.4 140.7L406.4 140.7L407.4 140.7L408.4 140.7L409.4 140.6L410.4 140.6L411.4 140.5L412.4 140.5L413.4 140.4L414.4 140.3L415.4 140.1L416.4 139.9L417.4 139.7L418.4 139.3L419.4 138.7L420.4 138L421.4 137L422.4 135.7L423.4 134L424.4 131.9L425.4 129.5L426.4 126.6L427.4 123.4L428.4 120.1L429.4 116.8L430.4 113.8L431.4 111.3L432.4 109.6L433.4 108.9L434.4 109.3L435.4 110.9L436.4 113.2L437.4 116.2L438.4 119.5L439.4 122.8L440.4 126L441.4 129L442.4 131.6L443.4 133.7L444.4 135.5L445.4 136.9L446.4 137.9L447.4 138.7L448.4 139.3L449.4 139.7L450.4 140L451.4 140.2L452.4 140.4L453.4 140.5L454.4 140.6L455.4 140.7L456.4 140.7L457.4 140.8L458.4 140.8L459.4 140.9L460.4 140.9L461.4 141L462.4 141L463.4 141L464.4 141.1L465.4 141.1L466.4 141.1L467.4 141.1L468.4 141.1L469.4 141.2L470.4 141.2L470.6 141.2L470.6 141.4L470.4 141.4L469.4 141.4L468.4 141.4L467.4 141.4L466.4 141.4L465.4 141.4L464.4 141.4L463.4 141.4L462.4 141.4L461.4 141.4L460.4 141.4L459.4 141.4L458.4 141.4L457.4 141.4L456.4 141.4L455.4 141.4L454.4 141.4L453.4 141.4L452.4 141.4L451.4 141.4L450.4 141.4L449.4 141.3L448.4 141.3L447.4 141.3L446.4 141.3L445.4 141.3L444.4 141.3L443.4 141.3L442.4 141.3L441.4 141.3L440.4 141.3L439.4 141.3L438.4 141.3L437.4 141.3L436.4 141.3L435.4 141.3L434.4 141.3L433.4 141.3L432.4 141.3L431.4 141.3L430.4 141.3L429.4 141.3L428.4 141.3L427.4 141.3L426.4 141.3L425.4 141.2L424.4 141.2L423.4 141.2L422.4 141.2L421.4 141.2L420.4 141.2L419.4 141.2L418.4 141.2L417.4 141.2L416.4 141.2L415.4 141.2L414.4 141.2L413.4 141.2L412.4 141.2L411.4 141.2L410.4 141.2L409.4 141.2L408.4 141.2L407.4 141.2L406.4 141.2L405.4 141.2L404.4 141.2L403.4 141.2L402.4 141.2L401.4 141.2L400.4 141.1L399.4 141.1L398.4 141.1L397.4 141.1L396.4 141.1Z" fill="url(#gO3)"/>
<path d="M396.4 140.9L397.4 140.9L398.4 140.9L399.4 140.9L400.4 140.8L401.4 140.8L402.4 140.8L403.4 140.8L404.4 140.8L405.4 140.7L406.4 140.7L407.4 140.7L408.4 140.7L409.4 140.6L410.4 140.6L411.4 140.5L412.4 140.5L413.4 140.4L414.4 140.3L415.4 140.1L416.4 139.9L417.4 139.7L418.4 139.3L419.4 138.7L420.4 138L421.4 137L422.4 135.7L423.4 134L424.4 131.9L425.4 129.5L426.4 126.6L427.4 123.4L428.4 120.1L429.4 116.8L430.4 113.8L431.4 111.3L432.4 109.6L433.4 108.9L434.4 109.3L435.4 110.9L436.4 113.2L437.4 116.2L438.4 119.5L439.4 122.8L440.4 126L441.4 129L442.4 131.6L443.4 133.7L444.4 135.5L445.4 136.9L446.4 137.9L447.4 138.7L448.4 139.3L449.4 139.7L450.4 140L451.4 140.2L452.4 140.4L453.4 140.5L454.4 140.6L455.4 140.7L456.4 140.7L457.4 140.8L458.4 140.8L459.4 140.9L460.4 140.9L461.4 141L462.4 141L463.4 141L464.4 141.1L465.4 141.1L466.4 141.1L467.4 141.1L468.4 141.1L469.4 141.2L470.4 141.2L470.6 141.2" fill="none" stroke="#e06a80" stroke-width="0.8"/>
<path d="M410.5 140.9L411.5 140.9L412.5 140.9L413.5 140.9L414.5 140.9L415.5 140.8L416.5 140.8L417.5 140.7L418.5 140.7L419.5 140.6L420.5 140.4L421.5 140.2L422.5 139.9L423.5 139.5L424.5 138.9L425.5 138.1L426.5 137.1L427.5 135.7L428.5 134L429.5 132L430.5 129.7L431.5 127.2L432.5 124.4L433.5 121.7L434.5 119L435.5 116.6L436.5 114.7L437.5 113.5L438.5 113.1L439.5 113.5L440.5 114.7L441.5 116.6L442.5 119L443.5 121.7L444.5 124.5L445.5 127.2L446.5 129.8L447.5 132.1L448.5 134.1L449.5 135.8L450.5 137.2L451.5 138.2L452.5 139L453.5 139.6L454.5 140L455.5 140.4L456.5 140.6L457.5 140.7L458.5 140.8L459.5 140.9L460.5 141L461.5 141L462.5 141.1L463.5 141.1L464.5 141.1L465.5 141.1L466.5 141.2L466.5 141.4L465.5 141.4L464.5 141.4L463.5 141.4L462.5 141.4L461.5 141.4L460.5 141.4L459.5 141.4L458.5 141.4L457.5 141.4L456.5 141.4L455.5 141.4L454.5 141.4L453.5 141.4L452.5 141.4L451.5 141.4L450.5 141.4L449.5 141.3L448.5 141.3L447.5 141.3L446.5 141.3L445.5 141.3L444.5 141.3L443.5 141.3L442.5 141.3L441.5 141.3L440.5 141.3L439.5 141.3L438.5 141.3L437.5 141.3L436.5 141.3L435.5 141.3L434.5 141.3L433.5 141.3L432.5 141.3L431.5 141.3L430.5 141.3L429.5 141.3L428.5 141.3L427.5 141.3L426.5 141.3L425.5 141.2L424.5 141.2L423.5 141.2L422.5 141.2L421.5 141.2L420.5 141.2L419.5 141.2L418.5 141.2L417.5 141.2L416.5 141.2L415.5 141.2L414.5 141.2L413.5 141.2L412.5 141.2L411.5 141.2L410.5 141.2Z" fill="url(#gO2)" fill-opacity="0.6"/>
<path d="M410.5 140.9L411.5 140.9L412.5 140.9L413.5 140.9L414.5 140.9L415.5 140.8L416.5 140.8L417.5 140.7L418.5 140.7L419.5 140.6L420.5 140.4L421.5 140.2L422.5 139.9L423.5 139.5L424.5 138.9L425.5 138.1L426.5 137.1L427.5 135.7L428.5 134L429.5 132L430.5 129.7L431.5 127.2L432.5 124.4L433.5 121.7L434.5 119L435.5 116.6L436.5 114.7L437.5 113.5L438.5 113.1L439.5 113.5L440.5 114.7L441.5 116.6L442.5 119L443.5 121.7L444.5 124.5L445.5 127.2L446.5 129.8L447.5 132.1L448.5 134.1L449.5 135.8L450.5 137.2L451.5 138.2L452.5 139L453.5 139.6L454.5 140L455.5 140.4L456.5 140.6L457.5 140.7L458.5 140.8L459.5 140.9L460.5 141L461.5 141L462.5 141.1L463.5 141.1L464.5 141.1L465.5 141.1L466.5 141.2" fill="none" stroke="#c888e0" stroke-width="0.8"/>
<path d="M364.1 141L368.1 141L372.1 141L376.1 141L380.1 141.1L384.1 141.1L388.1 141.1L392.1 141.1L396.1 141.1L400.1 141.1L404.1 141.2L408.1 141.2L412.1 141.2L416.1 141.2L420.1 141.2L424.1 141.2L428.1 141.3L432.1 141.3L436.1 141.3L440.1 141.3L444.1 141.3L448.1 141.3L452.1 141.4L456.1 141.4L460.1 141.4L464.1 141.4L468.1 141.4L472.1 141.4L476.1 141.5L480.1 141.5L484.1 141.5L488.1 141.5L492.1 141.5L496.1 141.5L500.1 141.6L504.1 141.6L508.1 141.6L512 141.6" fill="none" stroke="#a8b43c" stroke-width="0.9" />
<path d="M364.1 140.8L364.9 140.8L365.7 140.8L366.5 140.8L367.3 140.8L368.1 140.8L368.9 140.8L369.7 140.8L370.5 140.8L371.3 140.8L372.1 140.8L372.9 140.8L373.7 140.8L374.5 140.8L375.3 140.8L376.1 140.8L376.9 140.8L377.7 140.8L378.5 140.8L379.3 140.8L380.1 140.8L380.9 140.8L381.7 140.8L382.5 140.8L383.3 140.8L384.1 140.8L384.9 140.7L385.7 140.7L386.5 140.7L387.3 140.7L388.1 140.7L388.9 140.7L389.7 140.7L390.5 140.7L391.3 140.7L392.1 140.7L392.9 140.7L393.7 140.7L394.5 140.7L395.3 140.7L396.1 140.7L396.9 140.6L397.7 140.6L398.5 140.6L399.3 140.6L400.1 140.6L400.9 140.5L401.7 140.4L402.5 140.2L403.3 140L404.1 139.8L404.9 139.6L405.7 139.4L406.5 139.2L407.3 139L408.1 138.8L408.9 138.6L409.7 138.3L410.5 138.1L411.3 137.8L412.1 137.4L412.9 137.1L413.7 136.7L414.5 136.3L415.3 135.9L416.1 135.3L416.9 134.6L417.7 133.8L418.5 132.8L419.3 131.8L420.1 130.7L420.9 129.4L421.7 128L422.5 126L423.3 123.7L424.1 121.3L424.9 118.9L425.7 116.4L426.5 113.7L427.3 110.9L428.1 108.1L428.9 105.4L429.7 102.6L430.5 99.8L431.3 97.2L432.1 94.9L432.9 92.9L433.7 90.9L434.5 89.1L435.3 87.9L436.1 87.5L436.9 88.1L437.7 89.4L438.5 91.3L439.3 93.3L440.1 95.6L440.9 98.7L441.7 102.4L442.5 106L443.3 109.2L444.1 112.5L444.9 115.7L445.7 118.5L446.5 121.1L447.3 123.5L448.1 125.8L448.9 127.7L449.7 129.3L450.5 130.6L451.3 131.8L452.1 132.9L452.9 134L453.7 134.8L454.5 135.6L455.3 136.3L456.1 136.8L456.9 137.2L457.7 137.6L458.5 138L459.3 138.3L460.1 138.6L460.9 138.9L461.7 139.1L462.5 139.4L463.3 139.6L464.1 139.8L464.9 140.1L465.7 140.3L466.5 140.5L467.3 140.7L468.1 140.9L468.9 141L469.7 141.1L470.5 141.1L471.3 141.1L472.1 141.2L472.9 141.2L473.7 141.2L474.5 141.2L475.3 141.2L476.1 141.3L476.9 141.3L477.7 141.3L478.5 141.3L479.3 141.3L480.1 141.3L480.9 141.4L481.7 141.4L482.5 141.4L483.3 141.4L484.1 141.4L484.9 141.4L485.7 141.4L486.5 141.4L487.3 141.5L488.1 141.5L488.9 141.5L489.7 141.5L490.5 141.5L491.3 141.5L492.1 141.5L492.9 141.5L493.7 141.5L494.5 141.5L495.3 141.5L496.1 141.5L496.9 141.6L497.7 141.6L498.5 141.6L499.3 141.6L500.1 141.6L500.9 141.6L501.7 141.6L502.5 141.6L503.3 141.6L504.1 141.6L504.9 141.6L505.7 141.6L506.5 141.6L507.3 141.6L508.1 141.6L508.9 141.6L509.7 141.6L510.5 141.6L511.3 141.6L512 141.6" fill="none" stroke="#3e3834" stroke-width="1.2" />
<path d="M447.5 216.4L448.5 216.3L449.5 216.2L450.5 216L451.5 215.8L452.5 215.5L453.5 215.1L454.5 214.7L455.5 214.3L456.5 213.9L457.5 213.6L458.5 213.3L459.5 213.2L460.5 213.2L461.5 213.4L462.5 213.6L463.5 214L464.5 214.4L465.5 214.8L466.5 215.1L467.5 215.5L468.5 215.8L469.5 216L470.5 216.2L471.5 216.4L472.5 216.5L472.5 216.7L471.5 216.7L470.5 216.7L469.5 216.7L468.5 216.7L467.5 216.7L466.5 216.7L465.5 216.7L464.5 216.7L463.5 216.7L462.5 216.7L461.5 216.7L460.5 216.7L459.5 216.7L458.5 216.7L457.5 216.7L456.5 216.7L455.5 216.7L454.5 216.7L453.5 216.7L452.5 216.7L451.5 216.7L450.5 216.7L449.5 216.7L448.5 216.7L447.5 216.7Z" fill="#c8eef8"/>
<path d="M447.5 216.4L448.5 216.3L449.5 216.2L450.5 216L451.5 215.8L452.5 215.5L453.5 215.1L454.5 214.7L455.5 214.3L456.5 213.9L457.5 213.6L458.5 213.3L459.5 213.2L460.5 213.2L461.5 213.4L462.5 213.6L463.5 214L464.5 214.4L465.5 214.8L466.5 215.1L467.5 215.5L468.5 215.8L469.5 216L470.5 216.2L471.5 216.4L472.5 216.5" fill="none" stroke="#40b8e0" stroke-width="0.8"/>
<path d="M405.6 216.3L406.6 216.3L407.6 216.3L408.6 216.3L409.6 216.3L410.6 216.3L411.6 216.2L412.6 216.2L413.6 216.2L414.6 216.2L415.6 216.1L416.6 216.1L417.6 216.1L418.6 216L419.6 215.9L420.6 215.8L421.6 215.7L422.6 215.5L423.6 215.3L424.6 214.9L425.6 214.3L426.6 213.6L427.6 212.5L428.6 211L429.6 209.1L430.6 206.6L431.6 203.5L432.6 199.9L433.6 195.8L434.6 191.2L435.6 186.5L436.6 181.8L437.6 177.6L438.6 174.1L439.6 171.6L440.6 170.5L441.6 170.9L442.6 172.7L443.6 175.7L444.6 179.7L445.6 184.2L446.6 188.9L447.6 193.6L448.6 197.9L449.6 201.8L450.6 205.2L451.6 207.9L452.6 210.2L453.6 211.9L454.6 213.1L455.6 214.1L456.6 214.7L457.6 215.2L458.6 215.5L459.6 215.7L460.6 215.9L461.6 216L462.6 216.1L463.6 216.1L464.6 216.2L465.6 216.2L466.6 216.3L467.6 216.3L468.6 216.3L469.6 216.4L470.6 216.4L471.6 216.4L472.6 216.4L473.6 216.4L474.6 216.5L475.6 216.5L476.1 216.5L476.1 216.7L475.6 216.7L474.6 216.7L473.6 216.7L472.6 216.7L471.6 216.7L470.6 216.7L469.6 216.7L468.6 216.7L467.6 216.7L466.6 216.7L465.6 216.7L464.6 216.7L463.6 216.7L462.6 216.7L461.6 216.7L460.6 216.7L459.6 216.7L458.6 216.7L457.6 216.7L456.6 216.7L455.6 216.7L454.6 216.7L453.6 216.7L452.6 216.7L451.6 216.7L450.6 216.7L449.6 216.7L448.6 216.7L447.6 216.7L446.6 216.7L445.6 216.7L444.6 216.7L443.6 216.7L442.6 216.7L441.6 216.7L440.6 216.7L439.6 216.7L438.6 216.7L437.6 216.6L436.6 216.6L435.6 216.6L434.6 216.6L433.6 216.6L432.6 216.6L431.6 216.6L430.6 216.6L429.6 216.6L428.6 216.6L427.6 216.6L426.6 216.6L425.6 216.6L424.6 216.6L423.6 216.6L422.6 216.6L421.6 216.6L420.6 216.6L419.6 216.6L418.6 216.6L417.6 216.6L416.6 216.6L415.6 216.6L414.6 216.6L413.6 216.6L412.6 216.6L411.6 216.6L410.6 216.6L409.6 216.6L408.6 216.6L407.6 216.6L406.6 216.6L405.6 216.6Z" fill="url(#gRed)"/>
<path d="M405.6 216.3L406.6 216.3L407.6 216.3L408.6 216.3L409.6 216.3L410.6 216.3L411.6 216.2L412.6 216.2L413.6 216.2L414.6 216.2L415.6 216.1L416.6 216.1L417.6 216.1L418.6 216L419.6 215.9L420.6 215.8L421.6 215.7L422.6 215.5L423.6 215.3L424.6 214.9L425.6 214.3L426.6 213.6L427.6 212.5L428.6 211L429.6 209.1L430.6 206.6L431.6 203.5L432.6 199.9L433.6 195.8L434.6 191.2L435.6 186.5L436.6 181.8L437.6 177.6L438.6 174.1L439.6 171.6L440.6 170.5L441.6 170.9L442.6 172.7L443.6 175.7L444.6 179.7L445.6 184.2L446.6 188.9L447.6 193.6L448.6 197.9L449.6 201.8L450.6 205.2L451.6 207.9L452.6 210.2L453.6 211.9L454.6 213.1L455.6 214.1L456.6 214.7L457.6 215.2L458.6 215.5L459.6 215.7L460.6 215.9L461.6 216L462.6 216.1L463.6 216.1L464.6 216.2L465.6 216.2L466.6 216.3L467.6 216.3L468.6 216.3L469.6 216.4L470.6 216.4L471.6 216.4L472.6 216.4L473.6 216.4L474.6 216.5L475.6 216.5L476.1 216.5" fill="none" stroke="#e8707a" stroke-width="0.8"/>
<path d="M412.2 216.4L413.2 216.3L414.2 216.3L415.2 216.2L416.2 216.1L417.2 216L418.2 215.8L419.2 215.5L420.2 215.2L421.2 214.6L422.2 213.9L423.2 212.9L424.2 211.8L425.2 210.3L426.2 208.7L427.2 206.9L428.2 205L429.2 203.2L430.2 201.6L431.2 200.2L432.2 199.3L433.2 199L434.2 199.3L435.2 200.2L436.2 201.6L437.2 203.2L438.2 205.1L439.2 206.9L440.2 208.7L441.2 210.4L442.2 211.8L443.2 213L444.2 213.9L445.2 214.7L446.2 215.2L447.2 215.6L448.2 215.9L449.2 216.1L450.2 216.2L451.2 216.3L452.2 216.4L453.2 216.4L454.2 216.4L454.2 216.7L453.2 216.7L452.2 216.7L451.2 216.7L450.2 216.7L449.2 216.7L448.2 216.7L447.2 216.7L446.2 216.7L445.2 216.7L444.2 216.7L443.2 216.7L442.2 216.7L441.2 216.7L440.2 216.7L439.2 216.7L438.2 216.7L437.2 216.6L436.2 216.6L435.2 216.6L434.2 216.6L433.2 216.6L432.2 216.6L431.2 216.6L430.2 216.6L429.2 216.6L428.2 216.6L427.2 216.6L426.2 216.6L425.2 216.6L424.2 216.6L423.2 216.6L422.2 216.6L421.2 216.6L420.2 216.6L419.2 216.6L418.2 216.6L417.2 216.6L416.2 216.6L415.2 216.6L414.2 216.6L413.2 216.6L412.2 216.6Z" fill="url(#gO2)" fill-opacity="0.8"/>
<path d="M412.2 216.4L413.2 216.3L414.2 216.3L415.2 216.2L416.2 216.1L417.2 216L418.2 215.8L419.2 215.5L420.2 215.2L421.2 214.6L422.2 213.9L423.2 212.9L424.2 211.8L425.2 210.3L426.2 208.7L427.2 206.9L428.2 205L429.2 203.2L430.2 201.6L431.2 200.2L432.2 199.3L433.2 199L434.2 199.3L435.2 200.2L436.2 201.6L437.2 203.2L438.2 205.1L439.2 206.9L440.2 208.7L441.2 210.4L442.2 211.8L443.2 213L444.2 213.9L445.2 214.7L446.2 215.2L447.2 215.6L448.2 215.9L449.2 216.1L450.2 216.2L451.2 216.3L452.2 216.4L453.2 216.4L454.2 216.4" fill="none" stroke="#d870b8" stroke-width="0.8"/>
<path d="M364.1 216.5L368.1 216.5L372.1 216.5L376.1 216.5L380.1 216.5L384.1 216.5L388.1 216.5L392.1 216.6L396.1 216.6L400.1 216.6L404.1 216.6L408.1 216.6L412.1 216.6L416.1 216.6L420.1 216.6L424.1 216.6L428.1 216.6L432.1 216.6L436.1 216.6L440.1 216.7L444.1 216.7L448.1 216.7L452.1 216.7L456.1 216.7L460.1 216.7L464.1 216.7L468.1 216.7L472.1 216.7L476.1 216.7L480.1 216.7L484.1 216.7L488.1 216.8L492.1 216.8L496.1 216.8L500.1 216.8L504.1 216.8L508.1 216.8L512 216.8" fill="none" stroke="#a8b43c" stroke-width="0.9" />
<path d="M364.1 216.4L364.9 216.4L365.7 216.4L366.5 216.4L367.3 216.4L368.1 216.4L368.9 216.4L369.7 216.4L370.5 216.4L371.3 216.4L372.1 216.4L372.9 216.4L373.7 216.4L374.5 216.4L375.3 216.4L376.1 216.4L376.9 216.4L377.7 216.4L378.5 216.4L379.3 216.4L380.1 216.4L380.9 216.4L381.7 216.4L382.5 216.4L383.3 216.4L384.1 216.3L384.9 216.3L385.7 216.3L386.5 216.3L387.3 216.3L388.1 216.3L388.9 216.3L389.7 216.3L390.5 216.3L391.3 216.3L392.1 216.3L392.9 216.3L393.7 216.3L394.5 216.3L395.3 216.3L396.1 216.2L396.9 216.2L397.7 216.2L398.5 216.2L399.3 216.2L400.1 216.2L400.9 216.2L401.7 216.1L402.5 216.1L403.3 216L404.1 216L404.9 215.9L405.7 215.8L406.5 215.7L407.3 215.6L408.1 215.5L408.9 215.4L409.7 215.2L410.5 215L411.3 214.8L412.1 214.6L412.9 214.3L413.7 214.1L414.5 213.8L415.3 213.5L416.1 213.2L416.9 212.8L417.7 212.4L418.5 211.9L419.3 211.3L420.1 210.7L420.9 210L421.7 209.1L422.5 208.2L423.3 207.2L424.1 206.2L424.9 204.9L425.7 203.4L426.5 201.7L427.3 199.7L428.1 197.6L428.9 195.3L429.7 192.5L430.5 189.1L431.3 185.4L432.1 181.9L432.9 178.6L433.7 175.3L434.5 172.1L435.3 169.3L436.1 167L436.9 164.6L437.7 162.4L438.5 160.6L439.3 159.7L440.1 159.8L440.9 161L441.7 162.9L442.5 165.2L443.3 167.5L444.1 170L444.9 172.8L445.7 176L446.5 179.3L447.3 182.6L448.1 186.2L448.9 189.7L449.7 192.9L450.5 195.8L451.3 198.5L452.1 201L452.9 203.1L453.7 204.8L454.5 206.1L455.3 207.3L456.1 208.4L456.9 209.4L457.7 210.2L458.5 210.9L459.3 211.6L460.1 212.1L460.9 212.5L461.7 212.9L462.5 213.3L463.3 213.7L464.1 214L464.9 214.3L465.7 214.6L466.5 214.8L467.3 215.1L468.1 215.2L468.9 215.4L469.7 215.6L470.5 215.7L471.3 215.8L472.1 215.9L472.9 216L473.7 216.1L474.5 216.2L475.3 216.2L476.1 216.3L476.9 216.4L477.7 216.4L478.5 216.5L479.3 216.5L480.1 216.5L480.9 216.5L481.7 216.5L482.5 216.5L483.3 216.5L484.1 216.6L484.9 216.6L485.7 216.6L486.5 216.6L487.3 216.6L488.1 216.6L488.9 216.6L489.7 216.6L490.5 216.6L491.3 216.6L492.1 216.6L492.9 216.6L493.7 216.6L494.5 216.6L495.3 216.7L496.1 216.7L496.9 216.7L497.7 216.7L498.5 216.7L499.3 216.7L500.1 216.7L500.9 216.7L501.7 216.7L502.5 216.7L503.3 216.7L504.1 216.7L504.9 216.7L505.7 216.7L506.5 216.7L507.3 216.7L508.1 216.7L508.9 216.7L509.7 216.7L510.5 216.7L511.3 216.7L512 216.7" fill="none" stroke="#3e3834" stroke-width="1.3" />
<g fill="#000"><path d="M36 61L33.2 52" stroke="#000" stroke-width="1.15"/><path d="M31.8 47.6L35.1 51.4L31.3 52.6Z"/><path d="M61.2 57.8L58.5 48.1" stroke="#000" stroke-width="1.15"/><path d="M57.3 43.7L60.5 47.6L56.6 48.7Z"/><path d="M79.8 53.6L78.4 42.7" stroke="#000" stroke-width="1.15"/><path d="M77.8 38.1L80.4 42.4L76.4 42.9Z"/><path d="M113.2 29.7L119.9 26.1" stroke="#000" stroke-width="1.15"/><path d="M124 23.9L120.9 27.8L119 24.3Z"/><path d="M124.5 59.8L131.7 54.8" stroke="#000" stroke-width="1.15"/><path d="M135.5 52.2L132.9 56.5L130.6 53.2Z"/><path d="M282.5 34.2L272.4 25" stroke="#000" stroke-width="1.15"/><path d="M269 21.9L273.7 23.5L271.1 26.5Z"/><path d="M270.6 57L261.5 45.4" stroke="#000" stroke-width="1.15"/><path d="M258.7 41.8L263.1 44.2L260 46.7Z"/><path d="M423.6 37.1L417.3 31.4" stroke="#000" stroke-width="1.15"/><path d="M413.9 28.3L418.7 29.9L416 32.9Z"/><path d="M412.1 55.7L405 49.8" stroke="#000" stroke-width="1.15"/><path d="M401.5 46.9L406.3 48.3L403.8 51.4Z"/><path d="M446.3 44.9L455.4 37.3" stroke="#000" stroke-width="1.15"/><path d="M458.9 34.4L456.6 38.9L454.1 35.8Z"/><path d="M462.8 56.8L472.6 52.2" stroke="#000" stroke-width="1.15"/><path d="M476.8 50.2L473.5 54L471.8 50.4Z"/></g>
<rect x="15.0" y="1.9" width="148.9" height="226.4" fill="none" stroke="#000" stroke-width="1.4"/>
<path d="M15.0 77.1H163.9" stroke="#000" stroke-width="1.3"/>
<path d="M15.0 152.4H163.9" stroke="#000" stroke-width="1.3"/>
<rect x="189.5" y="1.9" width="148.7" height="226.4" fill="none" stroke="#000" stroke-width="1.4"/>
<path d="M189.5 77.1H338.2" stroke="#000" stroke-width="1.3"/>
<path d="M189.5 152.4H338.2" stroke="#000" stroke-width="1.3"/>
<rect x="364.1" y="1.9" width="147.9" height="226.4" fill="none" stroke="#000" stroke-width="1.4"/>
<path d="M364.1 77.1H512.0" stroke="#000" stroke-width="1.3"/>
<path d="M364.1 152.4H512.0" stroke="#000" stroke-width="1.3"/>
<path d="M27.4 77.1v-1.8M27.4 152.4v-1.8M27.4 228.3v-1.8M39.8 77.1v-3.4M39.8 152.4v-3.4M39.8 228.3v-3.4M52.2 77.1v-1.8M52.2 152.4v-1.8M52.2 228.3v-1.8M64.7 77.1v-3.4M64.7 152.4v-3.4M64.7 228.3v-3.4M77.1 77.1v-1.8M77.1 152.4v-1.8M77.1 228.3v-1.8M89.5 77.1v-3.4M89.5 152.4v-3.4M89.5 228.3v-3.4M101.9 77.1v-1.8M101.9 152.4v-1.8M101.9 228.3v-1.8M114.3 77.1v-3.4M114.3 152.4v-3.4M114.3 228.3v-3.4M126.8 77.1v-1.8M126.8 152.4v-1.8M126.8 228.3v-1.8M139.2 77.1v-3.4M139.2 152.4v-3.4M139.2 228.3v-3.4M151.6 77.1v-1.8M151.6 152.4v-1.8M151.6 228.3v-1.8M198.7 77.1v-3.4M198.7 152.4v-3.4M198.7 228.3v-3.4M212.6 77.1v-1.8M212.6 152.4v-1.8M212.6 228.3v-1.8M226.6 77.1v-3.4M226.6 152.4v-3.4M226.6 228.3v-3.4M240.5 77.1v-1.8M240.5 152.4v-1.8M240.5 228.3v-1.8M254.5 77.1v-3.4M254.5 152.4v-3.4M254.5 228.3v-3.4M268.4 77.1v-1.8M268.4 152.4v-1.8M268.4 228.3v-1.8M282.4 77.1v-3.4M282.4 152.4v-3.4M282.4 228.3v-3.4M296.3 77.1v-1.8M296.3 152.4v-1.8M296.3 228.3v-1.8M310.3 77.1v-3.4M310.3 152.4v-3.4M310.3 228.3v-3.4M324.2 77.1v-1.8M324.2 152.4v-1.8M324.2 228.3v-1.8M374.9 77.1v-1.8M374.9 152.4v-1.8M374.9 228.3v-1.8M385.4 77.1v-3.4M385.4 152.4v-3.4M385.4 228.3v-3.4M395.9 77.1v-1.8M395.9 152.4v-1.8M395.9 228.3v-1.8M406.5 77.1v-3.4M406.5 152.4v-3.4M406.5 228.3v-3.4M417.1 77.1v-1.8M417.1 152.4v-1.8M417.1 228.3v-1.8M427.6 77.1v-3.4M427.6 152.4v-3.4M427.6 228.3v-3.4M438.1 77.1v-1.8M438.1 152.4v-1.8M438.1 228.3v-1.8M448.7 77.1v-3.4M448.7 152.4v-3.4M448.7 228.3v-3.4M459.2 77.1v-1.8M459.2 152.4v-1.8M459.2 228.3v-1.8M469.8 77.1v-3.4M469.8 152.4v-3.4M469.8 228.3v-3.4M480.4 77.1v-1.8M480.4 152.4v-1.8M480.4 228.3v-1.8M490.9 77.1v-3.4M490.9 152.4v-3.4M490.9 228.3v-3.4M501.4 77.1v-1.8M501.4 152.4v-1.8M501.4 228.3v-1.8" stroke="#000" stroke-width="1.0" fill="none"/>
<g font-family="'Liberation Serif', serif" font-weight="bold" fill="#000">
<text x="15" y="240" font-size="8.6" text-anchor="middle" >292</text>
<text x="39.8" y="240" font-size="8.6" text-anchor="middle" >290</text>
<text x="64.7" y="240" font-size="8.6" text-anchor="middle" >288</text>
<text x="89.5" y="240" font-size="8.6" text-anchor="middle" >286</text>
<text x="114.3" y="240" font-size="8.6" text-anchor="middle" >284</text>
<text x="139.2" y="240" font-size="8.6" text-anchor="middle" >282</text>
<text x="164" y="240" font-size="8.6" text-anchor="middle" >280</text>
<text x="198.7" y="240" font-size="8.6" text-anchor="middle" >345</text>
<text x="226.6" y="240" font-size="8.6" text-anchor="middle" >342</text>
<text x="254.5" y="240" font-size="8.6" text-anchor="middle" >339</text>
<text x="282.4" y="240" font-size="8.6" text-anchor="middle" >336</text>
<text x="310.3" y="240" font-size="8.6" text-anchor="middle" >333</text>
<text x="338.2" y="240" font-size="8.6" text-anchor="middle" >330</text>
<text x="364.3" y="240" font-size="8.6" text-anchor="middle" >540</text>
<text x="385.4" y="240" font-size="8.6" text-anchor="middle" >538</text>
<text x="406.5" y="240" font-size="8.6" text-anchor="middle" >536</text>
<text x="427.6" y="240" font-size="8.6" text-anchor="middle" >534</text>
<text x="448.7" y="240" font-size="8.6" text-anchor="middle" >532</text>
<text x="469.8" y="240" font-size="8.6" text-anchor="middle" >530</text>
<text x="490.9" y="240" font-size="8.6" text-anchor="middle" >528</text>
<text x="512" y="240" font-size="8.6" text-anchor="middle" >526</text>
<text x="89.5" y="250.8" font-size="9.0" text-anchor="middle" >Binding energy (eV)</text>
<text x="263.8" y="250.8" font-size="9.0" text-anchor="middle" >Binding energy (eV)</text>
<text x="438.2" y="250.8" font-size="9.0" text-anchor="middle" >Binding energy (eV)</text>
<text x="0" y="0" font-size="9.0" text-anchor="middle" transform="translate(7.8 117.4) rotate(-90)">Intensity (a.u.)</text>
<text x="0" y="0" font-size="9.0" text-anchor="middle" transform="translate(181.6 110) rotate(-90)">Intensity (a.u.)</text>
<text x="0" y="0" font-size="9.0" text-anchor="middle" transform="translate(356 109.1) rotate(-90)">Intensity (a.u.)</text>
<text x="17.4" y="11.2" font-size="9.0" text-anchor="start" letter-spacing="0.1">Pd/C-SiO<tspan font-size="6.8" dy="2.4">2</tspan></text>
<text x="191.8" y="10.6" font-size="9.0" text-anchor="start" letter-spacing="0.1">Pd/C <tspan dx="2">SiO</tspan><tspan font-size="6.8" dy="2.4">2</tspan></text>
<text x="366.6" y="11.2" font-size="9.0" text-anchor="start" letter-spacing="0.1">Pd/C-SiO<tspan font-size="6.8" dy="2.4">2</tspan></text>
<text x="17.4" y="86" font-size="9.0" text-anchor="start" letter-spacing="0.1">Pd/C</text>
<text x="17.4" y="161.8" font-size="9.0" text-anchor="start" letter-spacing="0.1">Pd/SiO<tspan font-size="6.8" dy="2.4">2</tspan></text>
<text x="191.8" y="86" font-size="9.0" text-anchor="start" letter-spacing="0.1">Pd/C</text>
<text x="191.8" y="161.8" font-size="9.0" text-anchor="start" letter-spacing="0.1">Pd/SiO<tspan font-size="6.8" dy="2.4">2</tspan></text>
<text x="366.6" y="86" font-size="9.0" text-anchor="start" letter-spacing="0.1">Pd/C</text>
<text x="366.6" y="161.8" font-size="9.0" text-anchor="start" letter-spacing="0.1">Pd/SiO<tspan font-size="6.8" dy="2.4">2</tspan></text>
<text x="161.4" y="12.5" font-size="14" text-anchor="end" ><tspan font-weight="normal">(</tspan>a<tspan font-weight="normal">)</tspan></text>
<text x="335.4" y="12.5" font-size="14" text-anchor="end" ><tspan font-weight="normal">(</tspan>b<tspan font-weight="normal">)</tspan></text>
<text x="509.4" y="12.5" font-size="14" text-anchor="end" ><tspan font-weight="normal">(</tspan>c<tspan font-weight="normal">)</tspan></text>
<text x="17" y="42.8" font-size="8.7" text-anchor="start" >COOH</text>
<text x="47.6" y="40.6" font-size="8.7" text-anchor="start" >C=O</text>
<text x="67.4" y="36.2" font-size="8.7" text-anchor="start" >C-OH</text>
<text x="125.3" y="24.4" font-size="8.7" text-anchor="start" >C-C</text>
<text x="136.6" y="53.8" font-size="8.7" text-anchor="start" >C-Si</text>
<text x="264.8" y="19.7" font-size="8.6" text-anchor="start" >Pd<tspan font-size="5.6" dy="-3.4">0</tspan></text>
<text x="255.4" y="40.7" font-size="8.6" text-anchor="start" >Pd<tspan font-size="5.6" dy="-3.4">2+</tspan></text>
<text x="409" y="25.2" font-size="8.6" text-anchor="start" >O3</text>
<text x="395" y="44.7" font-size="8.6" text-anchor="start" >O4</text>
<text x="459.8" y="38" font-size="8.6" text-anchor="start" >O2</text>
<text x="478.3" y="49.6" font-size="8.6" text-anchor="start" >O1</text>
</g>
</svg>
</body></html>
